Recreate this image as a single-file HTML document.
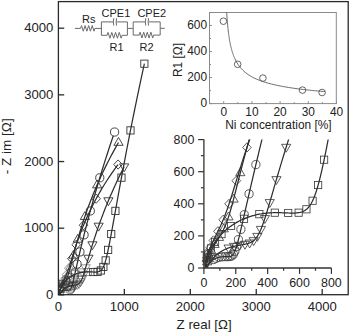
<!DOCTYPE html>
<html><head><meta charset="utf-8"><style>
html,body{margin:0;padding:0;background:#fff;}
body{width:350px;height:334px;overflow:hidden;}
svg{display:block;}
</style></head><body>
<svg width="350" height="334" viewBox="0 0 350 334" style="font-family:'Liberation Sans',sans-serif">
<rect x="58.4" y="1.6" width="289.8" height="293.1" fill="none" stroke="#2a2a2a" stroke-width="1.3"/>
<line x1="58.4" y1="294.87" x2="64.2" y2="294.87" stroke="#2a2a2a" stroke-width="1.3"/>
<text x="53.4" y="299.07" text-anchor="end" font-size="13.1" fill="#222">0</text>
<line x1="58.4" y1="228.20" x2="64.2" y2="228.20" stroke="#2a2a2a" stroke-width="1.3"/>
<text x="53.4" y="232.40" text-anchor="end" font-size="13.1" fill="#222">1000</text>
<line x1="58.4" y1="161.53" x2="64.2" y2="161.53" stroke="#2a2a2a" stroke-width="1.3"/>
<text x="53.4" y="165.73" text-anchor="end" font-size="13.1" fill="#222">2000</text>
<line x1="58.4" y1="94.86" x2="64.2" y2="94.86" stroke="#2a2a2a" stroke-width="1.3"/>
<text x="53.4" y="99.06" text-anchor="end" font-size="13.1" fill="#222">3000</text>
<line x1="58.4" y1="28.19" x2="64.2" y2="28.19" stroke="#2a2a2a" stroke-width="1.3"/>
<text x="53.4" y="32.39" text-anchor="end" font-size="13.1" fill="#222">4000</text>
<text x="58.40" y="310.8" text-anchor="middle" font-size="13.1" fill="#222">0</text>
<line x1="124.35" y1="294.7" x2="124.35" y2="289.0" stroke="#2a2a2a" stroke-width="1.3"/>
<text x="124.35" y="310.8" text-anchor="middle" font-size="13.1" fill="#222">1000</text>
<line x1="190.30" y1="294.7" x2="190.30" y2="289.0" stroke="#2a2a2a" stroke-width="1.3"/>
<text x="190.30" y="310.8" text-anchor="middle" font-size="13.1" fill="#222">2000</text>
<line x1="256.25" y1="294.7" x2="256.25" y2="289.0" stroke="#2a2a2a" stroke-width="1.3"/>
<text x="256.25" y="310.8" text-anchor="middle" font-size="13.1" fill="#222">3000</text>
<line x1="322.20" y1="294.7" x2="322.20" y2="289.0" stroke="#2a2a2a" stroke-width="1.3"/>
<text x="322.20" y="310.8" text-anchor="middle" font-size="13.1" fill="#222">4000</text>
<text x="176.6" y="329.2" font-size="13.3" fill="#222">Z real [&#937;]</text>
<text transform="translate(11.4,174.2) rotate(-90)" font-size="13.5" fill="#222">- Z im [&#937;]</text>
<line x1="203.9" y1="139.3" x2="203.9" y2="268.6" stroke="#333" stroke-width="1.3"/>
<line x1="203.3" y1="268.0" x2="331.4" y2="268.0" stroke="#333" stroke-width="1.3"/>
<line x1="198.10" y1="268.00" x2="203.9" y2="268.00" stroke="#333" stroke-width="1.2"/>
<text x="194.3" y="272.40" text-anchor="end" font-size="12.4" fill="#222">0</text>
<line x1="200.90" y1="251.95" x2="203.9" y2="251.95" stroke="#333" stroke-width="1.2"/>
<line x1="198.10" y1="235.90" x2="203.9" y2="235.90" stroke="#333" stroke-width="1.2"/>
<text x="194.3" y="240.30" text-anchor="end" font-size="12.4" fill="#222">200</text>
<line x1="200.90" y1="219.85" x2="203.9" y2="219.85" stroke="#333" stroke-width="1.2"/>
<line x1="198.10" y1="203.80" x2="203.9" y2="203.80" stroke="#333" stroke-width="1.2"/>
<text x="194.3" y="208.20" text-anchor="end" font-size="12.4" fill="#222">400</text>
<line x1="200.90" y1="187.75" x2="203.9" y2="187.75" stroke="#333" stroke-width="1.2"/>
<line x1="198.10" y1="171.70" x2="203.9" y2="171.70" stroke="#333" stroke-width="1.2"/>
<text x="194.3" y="176.10" text-anchor="end" font-size="12.4" fill="#222">600</text>
<line x1="200.90" y1="155.65" x2="203.9" y2="155.65" stroke="#333" stroke-width="1.2"/>
<line x1="198.10" y1="139.60" x2="203.9" y2="139.60" stroke="#333" stroke-width="1.2"/>
<text x="194.3" y="144.00" text-anchor="end" font-size="12.4" fill="#222">800</text>
<line x1="203.90" y1="268" x2="203.90" y2="273.90" stroke="#333" stroke-width="1.2"/>
<text x="203.90" y="286.6" text-anchor="middle" font-size="12.4" fill="#222">0</text>
<line x1="219.84" y1="268" x2="219.84" y2="270.80" stroke="#333" stroke-width="1.2"/>
<line x1="235.78" y1="268" x2="235.78" y2="273.90" stroke="#333" stroke-width="1.2"/>
<text x="235.78" y="286.6" text-anchor="middle" font-size="12.4" fill="#222">200</text>
<line x1="251.72" y1="268" x2="251.72" y2="270.80" stroke="#333" stroke-width="1.2"/>
<line x1="267.66" y1="268" x2="267.66" y2="273.90" stroke="#333" stroke-width="1.2"/>
<text x="267.66" y="286.6" text-anchor="middle" font-size="12.4" fill="#222">400</text>
<line x1="283.60" y1="268" x2="283.60" y2="270.80" stroke="#333" stroke-width="1.2"/>
<line x1="299.54" y1="268" x2="299.54" y2="273.90" stroke="#333" stroke-width="1.2"/>
<text x="299.54" y="286.6" text-anchor="middle" font-size="12.4" fill="#222">600</text>
<line x1="315.48" y1="268" x2="315.48" y2="270.80" stroke="#333" stroke-width="1.2"/>
<line x1="331.42" y1="268" x2="331.42" y2="273.90" stroke="#333" stroke-width="1.2"/>
<text x="331.42" y="286.6" text-anchor="middle" font-size="12.4" fill="#222">800</text>
<rect x="209.5" y="12.5" width="126.8" height="91.1" fill="none" stroke="#8a8a8a" stroke-width="1"/>
<line x1="209.5" y1="103.60" x2="211.90" y2="103.60" stroke="#8a8a8a" stroke-width="1"/>
<text x="207.0" y="107.10" text-anchor="end" font-size="11.9" fill="#222">0</text>
<line x1="209.5" y1="90.58" x2="211.00" y2="90.58" stroke="#8a8a8a" stroke-width="1"/>
<line x1="209.5" y1="77.56" x2="211.90" y2="77.56" stroke="#8a8a8a" stroke-width="1"/>
<text x="207.0" y="81.06" text-anchor="end" font-size="11.9" fill="#222">200</text>
<line x1="209.5" y1="64.54" x2="211.00" y2="64.54" stroke="#8a8a8a" stroke-width="1"/>
<line x1="209.5" y1="51.52" x2="211.90" y2="51.52" stroke="#8a8a8a" stroke-width="1"/>
<text x="207.0" y="55.02" text-anchor="end" font-size="11.9" fill="#222">400</text>
<line x1="209.5" y1="38.50" x2="211.00" y2="38.50" stroke="#8a8a8a" stroke-width="1"/>
<line x1="209.5" y1="25.48" x2="211.90" y2="25.48" stroke="#8a8a8a" stroke-width="1"/>
<text x="207.0" y="28.98" text-anchor="end" font-size="11.9" fill="#222">600</text>
<line x1="223.70" y1="103.6" x2="223.70" y2="101.20" stroke="#8a8a8a" stroke-width="1"/>
<text x="223.70" y="116.0" text-anchor="middle" font-size="11.9" fill="#222">0</text>
<line x1="237.80" y1="103.6" x2="237.80" y2="102.10" stroke="#8a8a8a" stroke-width="1"/>
<line x1="251.90" y1="103.6" x2="251.90" y2="101.20" stroke="#8a8a8a" stroke-width="1"/>
<text x="251.90" y="116.0" text-anchor="middle" font-size="11.9" fill="#222">10</text>
<line x1="266.00" y1="103.6" x2="266.00" y2="102.10" stroke="#8a8a8a" stroke-width="1"/>
<line x1="280.10" y1="103.6" x2="280.10" y2="101.20" stroke="#8a8a8a" stroke-width="1"/>
<text x="280.10" y="116.0" text-anchor="middle" font-size="11.9" fill="#222">20</text>
<line x1="294.20" y1="103.6" x2="294.20" y2="102.10" stroke="#8a8a8a" stroke-width="1"/>
<line x1="308.30" y1="103.6" x2="308.30" y2="101.20" stroke="#8a8a8a" stroke-width="1"/>
<text x="308.30" y="116.0" text-anchor="middle" font-size="11.9" fill="#222">30</text>
<line x1="322.40" y1="103.6" x2="322.40" y2="102.10" stroke="#8a8a8a" stroke-width="1"/>
<line x1="336.50" y1="103.6" x2="336.50" y2="101.20" stroke="#8a8a8a" stroke-width="1"/>
<text x="336.50" y="116.0" text-anchor="middle" font-size="11.9" fill="#222">40</text>
<text x="225.2" y="128.8" font-size="11.9" fill="#222">Ni concentration [%]</text>
<text transform="translate(181.8,77.0) rotate(-90)" font-size="11.9" fill="#222">R1 [&#937;]</text>
<polyline points="226.69,12.51 226.84,14.78 226.98,16.89 227.12,18.87 227.27,20.72 227.41,22.45 227.55,24.09 227.70,25.63 227.84,27.09 227.98,28.47 228.13,29.78 228.27,31.03 228.41,32.22 228.56,33.35 228.70,34.44 228.84,35.47 228.98,36.47 229.13,37.42 229.27,38.34 229.41,39.22 229.56,40.06 229.70,40.88 229.84,41.67 229.99,42.42 230.13,43.16 230.27,43.87 230.42,44.55 230.56,45.22 230.70,45.86 230.85,46.48 230.99,47.09 231.13,47.67 231.28,48.24 231.42,48.80 231.56,49.34 231.71,49.86 231.85,50.37 231.99,50.87 232.14,51.35 232.28,51.82 232.42,52.28 232.57,52.73 232.71,53.17 232.85,53.60 232.99,54.01 233.14,54.42 233.28,54.82 233.42,55.21 233.57,55.59 233.71,55.96 233.85,56.33 234.00,56.69 234.14,57.04 234.28,57.38 234.43,57.72 234.57,58.04 234.71,58.37 234.86,58.68 235.00,58.99 235.00,58.99 236.53,61.97 238.05,64.46 239.58,66.58 241.10,68.42 242.63,70.03 244.15,71.46 245.68,72.74 247.20,73.89 248.73,74.94 250.25,75.90 251.78,76.77 253.31,77.58 254.83,78.33 256.36,79.03 257.88,79.68 259.41,80.29 260.93,80.86 262.46,81.40 263.98,81.91 265.51,82.39 267.03,82.84 268.56,83.28 270.08,83.69 271.61,84.08 273.14,84.45 274.66,84.81 276.19,85.15 277.71,85.47 279.24,85.79 280.76,86.09 282.29,86.38 283.81,86.65 285.34,86.92 286.86,87.18 288.39,87.43 289.92,87.67 291.44,87.90 292.97,88.13 294.49,88.35 296.02,88.56 297.54,88.76 299.07,88.96 300.59,89.15 302.12,89.34 303.64,89.52 305.17,89.70 306.69,89.87 308.22,90.04 309.75,90.20 311.27,90.36 312.80,90.51 314.32,90.66 315.85,90.81 317.37,90.95 318.90,91.09 320.42,91.23 321.95,91.36 323.47,91.49 325.00,91.62" fill="none" stroke="#5a5a5a" stroke-width="0.9"/>
<circle cx="223.4" cy="21.2" r="3.3" fill="none" stroke="#555" stroke-width="0.9"/>
<circle cx="237.7" cy="64.3" r="3.3" fill="none" stroke="#555" stroke-width="0.9"/>
<circle cx="262.9" cy="78.1" r="3.3" fill="none" stroke="#555" stroke-width="0.9"/>
<circle cx="302.5" cy="90.1" r="3.3" fill="none" stroke="#555" stroke-width="0.9"/>
<circle cx="322.1" cy="92.5" r="3.3" fill="none" stroke="#555" stroke-width="0.9"/>
<g fill="none" stroke="#6a6a6a" stroke-width="1">
<polyline points="74.9,28.4 80.6,28.4 80.60,28.40 81.49,25.60 83.28,31.20 85.07,25.60 86.86,31.20 88.64,25.60 90.43,31.20 92.22,25.60 94.01,31.20 94.90,28.40 101.4,28.4"/>
<path d="M101.4,21.9 V35.3 M127.4,21.9 V35.3 M101.4,21.9 H113.3 M116.5,21.9 H127.4 M101.4,35.3 H107.1 M122.1,35.3 H127.4"/>
<path d="M113.8,18.2 Q112.8,21.9 113.8,25.6 M116.6,18.2 Q115.6,21.9 116.6,25.6"/>
<polyline points="107.10,35.30 108.04,32.40 109.91,38.20 111.79,32.40 113.66,38.20 115.54,32.40 117.41,38.20 119.29,32.40 121.16,38.20 122.10,35.30"/>
<path d="M127.4,28.4 H133.2"/>
<path d="M133.2,21.9 V35.1 M160.2,21.9 V35.1 M133.2,21.9 H145.3 M148.5,21.9 H160.2 M133.2,35.1 H139.2 M153.6,35.1 H160.2"/>
<path d="M145.8,18.2 Q144.8,21.9 145.8,25.6 M148.6,18.2 Q147.6,21.9 148.6,25.6"/>
<polyline points="139.20,35.10 140.10,32.20 141.90,38.00 143.70,32.20 145.50,38.00 147.30,32.20 149.10,38.00 150.90,32.20 152.70,38.00 153.60,35.10"/>
<path d="M160.2,28.3 H164.8"/>
</g>
<text x="82.1" y="23.0" font-size="11" fill="#222">Rs</text>
<text x="101.6" y="16.9" font-size="11" fill="#222">CPE1</text>
<text x="137.4" y="16.9" font-size="11" fill="#222">CPE2</text>
<text x="109.6" y="51.0" font-size="11" fill="#222">R1</text>
<text x="139.6" y="50.8" font-size="11" fill="#222">R2</text>
<defs><clipPath id="cm"><rect x="59" y="2.3" width="288.5" height="292"/></clipPath><clipPath id="ci"><rect x="204.5" y="139.5" width="127" height="128"/></clipPath></defs>
<g clip-path="url(#cm)"><g fill="none" stroke="#2e2e2e" stroke-width="1.25" stroke-linejoin="round"><polyline points="144.37,63.69 143.08,69.60 141.84,75.36 140.64,80.97 139.48,86.44 138.36,91.77 137.27,96.96 136.22,102.02 135.21,106.95 134.23,111.75 133.28,116.43 132.36,120.98 131.48,125.42 130.62,129.75 129.79,133.96 128.98,138.06 128.20,142.06 127.45,145.95 126.72,149.75 126.01,153.44 125.32,157.03 124.66,160.54 124.02,163.95 123.39,167.27 122.79,170.50 122.20,173.65 121.63,176.72 121.08,179.70 120.54,182.61 120.02,185.44 119.52,188.20 119.03,190.88 118.55,193.49 118.09,196.03 117.65,198.50 117.21,200.91 116.79,203.25 116.38,205.53 115.98,207.75 115.59,209.91 115.21,212.00 114.84,214.05 114.49,216.03 114.14,217.97 113.80,219.85 113.47,221.68 113.15,223.45 112.84,225.18 112.53,226.86 112.23,228.50 111.94,230.09 111.66,231.63 111.38,233.13 111.12,234.59 110.85,236.01 110.59,237.38 110.34,238.72 110.10,240.02 109.86,241.28 109.62,242.51 109.39,243.69 109.16,244.85 108.94,245.97 108.73,247.05 108.51,248.11 108.30,249.13 108.10,250.12 107.89,251.08 107.69,252.01 107.50,252.91 107.30,253.78 107.11,254.62 106.92,255.44 106.74,256.23 106.55,257.00 106.37,257.74 106.19,258.45 106.01,259.14 105.83,259.81 105.66,260.45 105.48,261.07 105.30,261.67 105.13,262.24 104.96,262.80 104.78,263.33 104.61,263.85 104.44,264.34 104.26,264.81 104.09,265.27 103.91,265.71 103.74,266.12 103.56,266.52 103.38,266.91 103.20,267.27 103.02,267.62 102.84,267.95 102.65,268.27 102.47,268.57 102.28,268.85 102.09,269.12 101.89,269.38 101.69,269.62 101.49,269.84 101.29,270.06 101.08,270.26 100.87,270.45 100.66,270.62 100.44,270.78 100.21,270.93 99.99,271.07 99.75,271.20 99.51,271.32 99.27,271.43 99.02,271.52 98.77,271.61 98.51,271.69 98.25,271.76 97.98,271.82 97.70,271.87 97.41,271.92 97.12,271.96 96.83,271.99 96.52,272.01 96.21,272.03 95.90,272.04 95.57,272.05 95.24,272.06 94.90,272.06 94.56,272.05 94.20,272.05 93.84,272.04 93.47,272.02 93.10,272.01 92.71,271.99 92.32,271.98 91.93,271.96 91.52,271.95 91.11,271.93 90.69,271.92 90.26,271.91 89.83,271.90 89.39,271.89 88.95,271.88 88.50,271.88 88.04,271.88 87.58,271.89 87.11,271.90 86.64,271.92 86.16,271.94 85.69,271.97 85.20,272.01 84.71,272.05 84.23,272.09 83.73,272.15 83.24,272.21 82.74,272.28 82.25,272.36 81.75,272.44 81.25,272.53 80.76,272.63 80.26,272.74 79.77,272.86 79.28,272.98 78.79,273.11 78.30,273.25 77.81,273.40 77.33,273.55 76.86,273.71 76.39,273.88 75.92,274.06 75.46,274.24 75.00,274.43 74.55,274.63 74.11,274.83 73.67,275.04 73.24,275.25 72.81,275.47 72.40,275.70 71.99,275.93 71.58,276.16 71.19,276.40 70.81,276.64 70.43,276.88 70.06,277.13 69.70,277.38 69.34,277.63 69.00,277.89 68.66,278.14 68.33,278.40 68.01,278.66 67.70,278.92 67.40,279.18 67.11,279.44 66.82,279.70 66.54,279.96 66.27,280.22 66.01,280.48 65.75,280.74 65.50,280.99 65.26,281.25 65.03,281.50 64.81,281.75 64.59,282.01 64.38,282.25 64.17,282.50 63.97,282.74 63.78,282.98 63.60,283.22 63.42,283.46 63.24,283.69 63.08,283.92 62.92,284.15 62.76,284.37 62.61,284.59 62.46,284.81 62.32,285.03 62.19,285.24 62.06,285.45 61.93,285.65 61.81,285.85 61.69,286.05 61.58,286.25 61.47,286.44 61.36,286.63 61.26,286.81 61.16,286.99 61.07,287.17 60.98,287.35 60.89,287.52 60.81,287.69 60.72,287.85 60.65,288.01 60.57,288.17 60.50,288.33 60.43,288.48 60.36,288.63 60.29,288.77 60.23,288.92 60.17,289.06 60.11,289.19 60.05,289.33 60.00,289.46 59.95,289.59 59.89,289.71 59.85,289.84 59.80,289.96 59.75,290.08 59.71,290.19 59.67,290.30 59.63,290.41 59.59,290.52 59.55,290.63 59.51,290.73 59.48,290.83 59.44,290.93 59.41,291.02 59.38,291.12 59.35,291.21 59.32,291.30 59.29,291.38 59.26,291.47 59.23,291.55 59.21,291.63 59.18,291.71 59.16,291.79 59.14,291.87 59.11,291.94 59.09,292.01 59.07,292.08 59.05,292.15 59.03,292.22 59.01,292.28 58.99,292.35 58.97,292.41 58.96,292.47 58.94,292.53 58.92,292.59 58.91,292.65 58.89,292.70 58.88,292.76 58.87,292.81 58.85,292.86 58.84,292.91 58.83,292.96 58.81,293.01 58.80,293.05 58.79,293.10 58.78,293.14 58.77,293.18 58.76,293.23 58.75,293.27 58.74,293.31 58.73,293.35 58.72,293.38 58.71,293.42 58.70,293.46 58.69,293.49 58.68,293.53 58.68,293.56 58.67,293.59 58.66,293.63 58.65,293.66 58.65,293.69 58.64,293.72 58.63,293.75 58.63,293.77 58.62,293.80 58.61,293.83 58.61,293.86 58.60,293.88 58.60,293.91 58.59,293.93 58.59,293.95 58.58,293.98 58.58,294.00 58.57,294.02 58.57,294.04 58.56,294.06 58.56,294.08 58.55,294.10 58.55,294.12 58.55,294.14 58.54,294.16 58.54,294.18 58.53,294.19 58.53,294.21 58.53,294.23 58.52,294.24 58.52,294.26 58.52,294.28 58.51,294.29 58.51,294.31 58.51,294.32 58.50,294.33 58.50,294.35 58.50,294.36 58.50,294.37 58.49,294.39 58.49,294.40 58.49,294.41 58.49,294.42 58.48,294.43 58.48,294.44 58.48,294.45 58.48,294.46 58.48,294.48 58.47,294.49 58.47,294.49 58.47,294.50 58.47,294.51 58.47,294.52 58.47,294.53 58.46,294.54 58.46,294.55 58.46,294.56 58.46,294.56 58.46,294.57 58.46,294.58 58.45,294.59 58.45,294.59 58.45,294.60 58.45,294.61 58.45,294.61 58.45,294.62 58.45,294.63 58.45,294.63 58.44,294.64 58.44,294.65 58.44,294.65 58.44,294.66 58.44,294.66 58.44,294.67 58.44,294.67 58.44,294.68 58.44,294.68 58.43,294.69 58.43,294.69 58.43,294.70 58.43,294.70 58.43,294.70 58.43,294.71 58.43,294.71 58.43,294.72 58.43,294.72 58.43,294.72 58.43,294.73 58.43,294.73 58.43,294.74 58.42,294.74 58.42,294.74 58.42,294.75 58.42,294.75 58.42,294.75 58.42,294.75 58.42,294.76 58.42,294.76 58.42,294.76 58.42,294.77 58.42,294.77 58.42,294.77 58.42,294.77 58.42,294.78 58.42,294.78 58.42,294.78 58.42,294.78 58.42,294.79 58.42,294.79 58.42,294.79 58.41,294.79 58.41,294.79 58.41,294.80 58.41,294.80 58.41,294.80 58.41,294.80 58.41,294.80 58.41,294.80 58.41,294.81 58.41,294.81 58.41,294.81 58.41,294.81 58.41,294.81 58.41,294.81 58.41,294.82 58.41,294.82 58.41,294.82 58.41,294.82 58.41,294.82 58.41,294.82 58.41,294.82 58.41,294.82 58.41,294.83 58.41,294.83 58.41,294.83 58.41,294.83 58.41,294.83 58.41,294.83 58.41,294.83 58.41,294.83 58.41,294.83 58.41,294.83 58.41,294.84 58.41,294.84 58.41,294.84 58.41,294.84 58.41,294.84 58.41,294.84 58.41,294.84 58.41,294.84 58.41,294.84 58.41,294.84 58.41,294.84 58.41,294.84 58.40,294.84 58.40,294.85 58.40,294.85 58.40,294.85 58.40,294.85 58.40,294.85 58.40,294.85 58.40,294.85 58.40,294.85 58.40,294.85 58.40,294.85 58.40,294.85 58.40,294.85 58.40,294.85 58.40,294.85 58.40,294.85 58.40,294.85 58.40,294.85 58.40,294.85 58.40,294.85 58.40,294.85 58.40,294.86 58.40,294.86 58.40,294.86 58.40,294.86 58.40,294.86 58.40,294.86 58.40,294.86 58.40,294.86 58.40,294.86 58.40,294.86 58.40,294.86 58.40,294.86 58.40,294.86 58.40,294.86 58.40,294.86 58.40,294.86 58.40,294.86 58.40,294.86 58.40,294.86 58.40,294.86 58.40,294.86 58.40,294.86 58.40,294.86 58.40,294.86 58.40,294.86 58.40,294.86 58.40,294.86 58.40,294.86 58.40,294.86 58.40,294.86 58.40,294.86 58.40,294.86 58.40,294.86 58.40,294.86 58.40,294.86 58.40,294.86 58.40,294.86 58.40,294.86 58.40,294.86 58.40,294.86 58.40,294.86 58.40,294.86 58.40,294.86 58.40,294.87 58.40,294.87 58.40,294.87 58.40,294.87 58.40,294.87 58.40,294.87 58.40,294.87 58.40,294.87 58.40,294.87 58.40,294.87 58.40,294.87 58.40,294.87 58.40,294.87 58.40,294.87 58.40,294.87 58.40,294.87 58.40,294.87 58.40,294.87 58.40,294.87 58.40,294.87 58.40,294.87 58.40,294.87 58.40,294.87 58.40,294.87 58.40,294.87 58.40,294.87 58.40,294.87 58.40,294.87 58.40,294.87 58.40,294.87 58.40,294.87 58.40,294.87 58.40,294.87 58.40,294.87 58.40,294.87 58.40,294.87 58.40,294.87 58.40,294.87 58.40,294.87 58.40,294.87 58.40,294.87 58.40,294.87 58.40,294.87 58.40,294.87 58.40,294.87 58.40,294.87 58.40,294.87 58.40,294.87 58.40,294.87 58.40,294.87 58.40,294.87 58.40,294.87 58.40,294.87 58.40,294.87 58.40,294.87 58.40,294.87 58.40,294.87 58.40,294.87 58.40,294.87 58.40,294.87 58.40,294.87 58.40,294.87 58.40,294.87 58.40,294.87 58.40,294.87 58.40,294.87 58.40,294.87 58.40,294.87 58.40,294.87 58.40,294.87 58.40,294.87 58.40,294.87 58.40,294.87 58.40,294.87 58.40,294.87 58.40,294.87 58.40,294.87 58.40,294.87 58.40,294.87 58.40,294.87 58.40,294.87 58.40,294.87 58.40,294.87 58.40,294.87 58.40,294.87 58.40,294.87 58.40,294.87 58.40,294.87 58.40,294.87 58.40,294.87 58.40,294.87 58.40,294.87 58.40,294.87 58.40,294.87 58.40,294.87 58.40,294.87 58.40,294.87 58.40,294.87 58.40,294.87 58.40,294.87 58.40,294.87 58.40,294.87 58.40,294.87 58.40,294.87 58.40,294.87 58.40,294.87 58.40,294.87 58.40,294.87 58.40,294.87 58.40,294.87 58.40,294.87 58.40,294.87 58.40,294.87 58.40,294.87 58.40,294.87 58.40,294.87 58.40,294.87 58.40,294.87 58.40,294.87 58.40,294.87 58.40,294.87 58.40,294.87 58.40,294.87 58.40,294.87 58.40,294.87 58.40,294.87 58.40,294.87 58.40,294.87 58.40,294.87 58.40,294.87 58.40,294.87 58.40,294.87 58.40,294.87 58.40,294.87 58.40,294.87 58.40,294.87 58.40,294.87 58.40,294.87 58.40,294.87 58.40,294.87 58.40,294.87 58.40,294.87 58.40,294.87 58.40,294.87 58.40,294.87 58.40,294.87 58.40,294.87 58.40,294.87 58.40,294.87 58.40,294.87 58.40,294.87 58.40,294.87 58.40,294.87 58.40,294.87 58.40,294.87 58.40,294.87 58.40,294.87 58.40,294.87 58.40,294.87 58.40,294.87 58.40,294.87 58.40,294.87 58.40,294.87 58.40,294.87 58.40,294.87 58.40,294.87 58.40,294.87 58.40,294.87 58.40,294.87 58.40,294.87 58.40,294.87 58.40,294.87 58.40,294.87 58.40,294.87 58.40,294.87 58.40,294.87 58.40,294.87 58.40,294.87 58.40,294.87 58.40,294.87 58.40,294.87 58.40,294.87 58.40,294.87 58.40,294.87"/><polyline points="124.15,166.79 122.77,169.49 121.44,172.15 120.15,174.75 118.90,177.31 117.70,179.82 116.54,182.28 115.41,184.69 114.33,187.06 113.28,189.39 112.27,191.66 111.28,193.90 110.34,196.08 109.42,198.23 108.54,200.33 107.68,202.39 106.85,204.41 106.05,206.38 105.28,208.32 104.53,210.21 103.81,212.07 103.11,213.88 102.43,215.66 101.78,217.40 101.14,219.11 100.53,220.77 99.93,222.40 99.36,224.00 98.80,225.56 98.27,227.09 97.74,228.59 97.24,230.05 96.75,231.48 96.28,232.88 95.82,234.24 95.37,235.58 94.94,236.89 94.52,238.17 94.12,239.42 93.73,240.64 93.35,241.83 92.98,243.00 92.62,244.14 92.27,245.25 91.93,246.34 91.61,247.40 91.29,248.44 90.98,249.46 90.68,250.45 90.39,251.42 90.10,252.36 89.83,253.29 89.56,254.19 89.30,255.07 89.05,255.93 88.80,256.77 88.56,257.59 88.33,258.39 88.10,259.17 87.88,259.93 87.66,260.68 87.45,261.40 87.25,262.11 87.05,262.80 86.86,263.47 86.67,264.13 86.48,264.77 86.30,265.40 86.12,266.01 85.95,266.60 85.78,267.18 85.61,267.75 85.45,268.30 85.30,268.84 85.14,269.36 84.99,269.87 84.84,270.37 84.69,270.85 84.55,271.32 84.41,271.78 84.27,272.23 84.14,272.66 84.00,273.09 83.87,273.50 83.74,273.90 83.62,274.29 83.49,274.67 83.37,275.04 83.25,275.40 83.13,275.75 83.01,276.09 82.90,276.42 82.78,276.74 82.67,277.05 82.55,277.36 82.44,277.65 82.33,277.93 82.22,278.21 82.11,278.48 82.01,278.74 81.90,278.99 81.79,279.24 81.69,279.48 81.58,279.71 81.48,279.93 81.37,280.15 81.27,280.36 81.16,280.56 81.06,280.76 80.96,280.95 80.85,281.13 80.75,281.31 80.65,281.48 80.54,281.64 80.44,281.80 80.34,281.96 80.23,282.11 80.13,282.25 80.02,282.39 79.92,282.52 79.81,282.65 79.71,282.77 79.60,282.89 79.49,283.01 79.38,283.12 79.27,283.22 79.16,283.32 79.05,283.42 78.94,283.51 78.83,283.60 78.72,283.69 78.60,283.77 78.49,283.85 78.37,283.92 78.26,284.00 78.14,284.07 78.02,284.13 77.90,284.20 77.78,284.26 77.65,284.31 77.53,284.37 77.41,284.42 77.28,284.47 77.15,284.52 77.02,284.57 76.89,284.61 76.76,284.65 76.63,284.69 76.49,284.73 76.36,284.77 76.22,284.81 76.08,284.84 75.94,284.87 75.80,284.90 75.66,284.94 75.52,284.97 75.37,285.00 75.23,285.02 75.08,285.05 74.93,285.08 74.78,285.11 74.63,285.13 74.48,285.16 74.32,285.19 74.17,285.21 74.01,285.24 73.86,285.26 73.70,285.29 73.54,285.32 73.38,285.34 73.22,285.37 73.06,285.40 72.90,285.43 72.74,285.46 72.58,285.49 72.41,285.52 72.25,285.55 72.09,285.58 71.92,285.61 71.76,285.65 71.59,285.68 71.43,285.72 71.26,285.75 71.10,285.79 70.93,285.83 70.77,285.87 70.60,285.91 70.44,285.96 70.28,286.00 70.11,286.05 69.95,286.09 69.79,286.14 69.62,286.19 69.46,286.24 69.30,286.29 69.14,286.34 68.98,286.40 68.83,286.45 68.67,286.51 68.51,286.57 68.36,286.62 68.21,286.68 68.05,286.74 67.90,286.81 67.75,286.87 67.60,286.93 67.46,287.00 67.31,287.07 67.17,287.13 67.03,287.20 66.89,287.27 66.75,287.34 66.61,287.41 66.47,287.48 66.34,287.55 66.21,287.63 66.08,287.70 65.95,287.77 65.82,287.85 65.70,287.92 65.57,288.00 65.45,288.07 65.33,288.15 65.21,288.23 65.10,288.30 64.98,288.38 64.87,288.46 64.76,288.53 64.65,288.61 64.55,288.69 64.44,288.76 64.34,288.84 64.24,288.92 64.14,289.00 64.04,289.07 63.95,289.15 63.85,289.23 63.76,289.30 63.67,289.38 63.58,289.46 63.50,289.53 63.41,289.61 63.33,289.68 63.25,289.76 63.17,289.83 63.09,289.90 63.01,289.98 62.94,290.05 62.87,290.12 62.79,290.19 62.72,290.26 62.66,290.33 62.59,290.40 62.52,290.47 62.46,290.54 62.40,290.61 62.33,290.68 62.27,290.74 62.22,290.81 62.16,290.87 62.10,290.94 62.05,291.00 61.99,291.07 61.94,291.13 61.89,291.19 61.84,291.25 61.79,291.31 61.74,291.37 61.70,291.43 61.65,291.49 61.61,291.54 61.56,291.60 61.52,291.66 61.48,291.71 61.44,291.77 61.40,291.82 61.36,291.87 61.32,291.93 61.28,291.98 61.25,292.03 61.21,292.08 61.18,292.13 61.15,292.18 61.11,292.22 61.08,292.27 61.05,292.32 61.02,292.36 60.99,292.41 60.96,292.45 60.93,292.50 60.90,292.54 60.88,292.58 60.85,292.62 60.82,292.66 60.80,292.70 60.77,292.74 60.75,292.78 60.73,292.82 60.70,292.86 60.68,292.90 60.66,292.93 60.64,292.97 60.62,293.00 60.60,293.04 60.58,293.07 60.56,293.11 60.54,293.14 60.52,293.17 60.50,293.20 60.48,293.23 60.47,293.26 60.45,293.30 60.43,293.32 60.42,293.35 60.40,293.38 60.39,293.41 60.37,293.44 60.36,293.47 60.34,293.49 60.33,293.52 60.32,293.54 60.30,293.57 60.29,293.59 60.28,293.62 60.26,293.64 60.25,293.67 60.24,293.69 60.23,293.71 60.22,293.73 60.21,293.76 60.19,293.78 60.18,293.80 60.17,293.82 60.16,293.84 60.15,293.86 60.14,293.88 60.13,293.90 60.12,293.92 60.12,293.94 60.11,293.95 60.10,293.97 60.09,293.99 60.08,294.01 60.07,294.02 60.07,294.04 60.06,294.06 60.05,294.07 60.04,294.09 60.04,294.10 60.03,294.12 60.02,294.13 60.01,294.15 60.01,294.16 60.00,294.17 59.99,294.19 59.99,294.20 59.98,294.21 59.98,294.23 59.97,294.24 59.97,294.25 59.96,294.26 59.95,294.28 59.95,294.29 59.94,294.30 59.94,294.31 59.93,294.32 59.93,294.33 59.92,294.34 59.92,294.35 59.91,294.36 59.91,294.37 59.91,294.38 59.90,294.39 59.90,294.40 59.89,294.41 59.89,294.42 59.89,294.43 59.88,294.44 59.88,294.45 59.87,294.46 59.87,294.46 59.87,294.47 59.86,294.48 59.86,294.49 59.86,294.49 59.85,294.50 59.85,294.51 59.85,294.52 59.84,294.52 59.84,294.53 59.84,294.54 59.84,294.54 59.83,294.55 59.83,294.56 59.83,294.56 59.82,294.57 59.82,294.57 59.82,294.58 59.82,294.59 59.81,294.59 59.81,294.60 59.81,294.60 59.81,294.61 59.81,294.61 59.80,294.62 59.80,294.62 59.80,294.63 59.80,294.63 59.80,294.64 59.79,294.64 59.79,294.65 59.79,294.65 59.79,294.66 59.79,294.66 59.78,294.66 59.78,294.67 59.78,294.67 59.78,294.68 59.78,294.68 59.78,294.68 59.77,294.69 59.77,294.69 59.77,294.69 59.77,294.70 59.77,294.70 59.77,294.71 59.77,294.71 59.76,294.71 59.76,294.71 59.76,294.72 59.76,294.72 59.76,294.72 59.76,294.73 59.76,294.73 59.76,294.73 59.75,294.74 59.75,294.74 59.75,294.74 59.75,294.74 59.75,294.75 59.75,294.75 59.75,294.75 59.75,294.75 59.75,294.76 59.75,294.76 59.74,294.76 59.74,294.76 59.74,294.76 59.74,294.77 59.74,294.77 59.74,294.77 59.74,294.77 59.74,294.77 59.74,294.78 59.74,294.78 59.74,294.78 59.74,294.78 59.73,294.78 59.73,294.79 59.73,294.79 59.73,294.79 59.73,294.79 59.73,294.79 59.73,294.79 59.73,294.79 59.73,294.80 59.73,294.80 59.73,294.80 59.73,294.80 59.73,294.80 59.73,294.80 59.73,294.80 59.73,294.81 59.73,294.81 59.72,294.81 59.72,294.81 59.72,294.81 59.72,294.81 59.72,294.81 59.72,294.81 59.72,294.82 59.72,294.82 59.72,294.82 59.72,294.82 59.72,294.82 59.72,294.82 59.72,294.82 59.72,294.82 59.72,294.82 59.72,294.82 59.72,294.83 59.72,294.83 59.72,294.83 59.72,294.83 59.72,294.83 59.72,294.83 59.72,294.83 59.72,294.83 59.72,294.83 59.71,294.83 59.71,294.83 59.71,294.83 59.71,294.84 59.71,294.84 59.71,294.84 59.71,294.84 59.71,294.84 59.71,294.84 59.71,294.84 59.71,294.84 59.71,294.84 59.71,294.84 59.71,294.84 59.71,294.84 59.71,294.84 59.71,294.84 59.71,294.84 59.71,294.84 59.71,294.84 59.71,294.85 59.71,294.85 59.71,294.85 59.71,294.85 59.71,294.85 59.71,294.85 59.71,294.85 59.71,294.85 59.71,294.85 59.71,294.85 59.71,294.85 59.71,294.85 59.71,294.85 59.71,294.85 59.71,294.85 59.71,294.85 59.71,294.85 59.71,294.85 59.71,294.85 59.71,294.85 59.71,294.85 59.71,294.85 59.71,294.85 59.71,294.85 59.71,294.85 59.71,294.86 59.71,294.86 59.71,294.86 59.71,294.86 59.71,294.86 59.71,294.86 59.71,294.86 59.70,294.86 59.70,294.86 59.70,294.86 59.70,294.86 59.70,294.86 59.70,294.86 59.70,294.86 59.70,294.86 59.70,294.86 59.70,294.86 59.70,294.86 59.70,294.86 59.70,294.86 59.70,294.86 59.70,294.86 59.70,294.86 59.70,294.86 59.70,294.86 59.70,294.86 59.70,294.86 59.70,294.86 59.70,294.86 59.70,294.86 59.70,294.86 59.70,294.86 59.70,294.86 59.70,294.86 59.70,294.86 59.70,294.86 59.70,294.86 59.70,294.86 59.70,294.86 59.70,294.86 59.70,294.86 59.70,294.86 59.70,294.86 59.70,294.86 59.70,294.86 59.70,294.86 59.70,294.86 59.70,294.86 59.70,294.86 59.70,294.86 59.70,294.86 59.70,294.86 59.70,294.86 59.70,294.86 59.70,294.86 59.70,294.87 59.70,294.87 59.70,294.87 59.70,294.87 59.70,294.87 59.70,294.87 59.70,294.87 59.70,294.87 59.70,294.87 59.70,294.87 59.70,294.87 59.70,294.87 59.70,294.87 59.70,294.87 59.70,294.87 59.70,294.87 59.70,294.87 59.70,294.87 59.70,294.87 59.70,294.87 59.70,294.87 59.70,294.87 59.70,294.87 59.70,294.87 59.70,294.87 59.70,294.87 59.70,294.87 59.70,294.87 59.70,294.87 59.70,294.87 59.70,294.87 59.70,294.87 59.70,294.87 59.70,294.87 59.70,294.87 59.70,294.87 59.70,294.87 59.70,294.87 59.70,294.87 59.70,294.87 59.70,294.87 59.70,294.87 59.70,294.87 59.70,294.87 59.70,294.87 59.70,294.87 59.70,294.87 59.70,294.87 59.70,294.87 59.70,294.87 59.70,294.87 59.70,294.87 59.70,294.87 59.70,294.87 59.70,294.87 59.70,294.87 59.70,294.87 59.70,294.87 59.70,294.87 59.70,294.87 59.70,294.87 59.70,294.87 59.70,294.87 59.70,294.87 59.70,294.87 59.70,294.87 59.70,294.87 59.70,294.87 59.70,294.87 59.70,294.87 59.70,294.87 59.70,294.87 59.70,294.87 59.70,294.87 59.70,294.87 59.70,294.87 59.70,294.87 59.70,294.87 59.70,294.87 59.70,294.87 59.70,294.87 59.70,294.87 59.70,294.87 59.70,294.87 59.70,294.87 59.70,294.87 59.70,294.87 59.70,294.87 59.70,294.87 59.70,294.87 59.70,294.87 59.70,294.87 59.70,294.87 59.70,294.87 59.70,294.87 59.70,294.87 59.70,294.87 59.70,294.87 59.70,294.87 59.70,294.87 59.70,294.87"/><polyline points="113.31,135.73 112.14,139.17 111.01,142.53 109.91,145.82 108.85,149.04 107.82,152.20 106.82,155.29 105.84,158.32 104.90,161.28 103.99,164.18 103.10,167.02 102.23,169.80 101.40,172.52 100.58,175.19 99.79,177.79 99.03,180.35 98.28,182.84 97.56,185.29 96.86,187.68 96.18,190.02 95.51,192.32 94.87,194.56 94.24,196.75 93.64,198.90 93.04,201.00 92.47,203.06 91.91,205.07 91.37,207.04 90.84,208.97 90.33,210.85 89.83,212.70 89.34,214.50 88.87,216.26 88.41,217.99 87.97,219.68 87.53,221.33 87.11,222.95 86.70,224.53 86.30,226.08 85.91,227.59 85.53,229.07 85.16,230.51 84.80,231.93 84.45,233.31 84.11,234.67 83.78,235.99 83.46,237.29 83.14,238.56 82.84,239.79 82.54,241.01 82.25,242.19 81.97,243.35 81.69,244.48 81.42,245.59 81.16,246.67 80.91,247.73 80.66,248.77 80.42,249.78 80.18,250.77 79.95,251.74 79.73,252.69 79.51,253.62 79.30,254.52 79.09,255.41 78.89,256.27 78.69,257.12 78.50,257.95 78.31,258.76 78.13,259.55 77.95,260.32 77.77,261.07 77.60,261.81 77.44,262.54 77.27,263.24 77.12,263.93 76.96,264.61 76.81,265.27 76.66,265.91 76.52,266.54 76.38,267.16 76.24,267.76 76.11,268.35 75.98,268.92 75.85,269.48 75.73,270.03 75.60,270.57 75.48,271.09 75.37,271.60 75.25,272.11 75.14,272.59 75.03,273.07 74.93,273.54 74.82,274.00 74.72,274.44 74.62,274.88 74.53,275.30 74.43,275.72 74.34,276.12 74.25,276.52 74.16,276.91 74.07,277.29 73.99,277.65 73.90,278.02 73.82,278.37 73.74,278.71 73.66,279.05 73.59,279.38 73.51,279.70 73.44,280.01 73.36,280.31 73.29,280.61 73.22,280.90 73.16,281.19 73.09,281.46 73.02,281.73 72.96,282.00 72.89,282.25 72.83,282.50 72.77,282.75 72.71,282.99 72.65,283.22 72.59,283.45 72.54,283.67 72.48,283.88 72.43,284.09 72.37,284.30 72.32,284.50 72.26,284.69 72.21,284.88 72.16,285.07 72.11,285.25 72.06,285.42 72.01,285.60 71.96,285.76 71.91,285.92 71.87,286.08 71.82,286.23 71.77,286.38 71.73,286.53 71.68,286.67 71.64,286.81 71.59,286.94 71.55,287.07 71.50,287.20 71.46,287.32 71.42,287.44 71.38,287.55 71.33,287.66 71.29,287.77 71.25,287.88 71.21,287.98 71.16,288.08 71.12,288.17 71.08,288.27 71.04,288.36 71.00,288.44 70.96,288.53 70.92,288.61 70.87,288.69 70.83,288.76 70.79,288.84 70.75,288.91 70.71,288.97 70.67,289.04 70.63,289.10 70.58,289.16 70.54,289.22 70.50,289.28 70.46,289.33 70.41,289.38 70.37,289.43 70.33,289.48 70.28,289.53 70.24,289.57 70.20,289.61 70.15,289.65 70.11,289.69 70.06,289.73 70.02,289.76 69.97,289.79 69.92,289.82 69.88,289.85 69.83,289.88 69.78,289.91 69.73,289.93 69.68,289.95 69.63,289.98 69.58,290.00 69.53,290.01 69.48,290.03 69.43,290.05 69.38,290.06 69.32,290.08 69.27,290.09 69.22,290.10 69.16,290.11 69.10,290.12 69.05,290.13 68.99,290.14 68.93,290.14 68.87,290.15 68.81,290.16 68.75,290.16 68.69,290.16 68.63,290.17 68.56,290.17 68.50,290.17 68.44,290.17 68.37,290.17 68.30,290.17 68.24,290.17 68.17,290.17 68.10,290.17 68.03,290.17 67.96,290.17 67.89,290.17 67.82,290.17 67.74,290.17 67.67,290.17 67.60,290.17 67.52,290.16 67.44,290.16 67.37,290.16 67.29,290.16 67.21,290.16 67.13,290.16 67.05,290.16 66.97,290.16 66.89,290.16 66.81,290.16 66.73,290.16 66.65,290.17 66.57,290.17 66.48,290.17 66.40,290.18 66.32,290.18 66.23,290.19 66.15,290.19 66.06,290.20 65.98,290.21 65.89,290.21 65.81,290.22 65.72,290.23 65.63,290.24 65.55,290.25 65.46,290.26 65.37,290.28 65.29,290.29 65.20,290.30 65.12,290.32 65.03,290.33 64.94,290.35 64.86,290.37 64.77,290.39 64.69,290.41 64.60,290.43 64.52,290.45 64.44,290.47 64.35,290.49 64.27,290.52 64.19,290.54 64.10,290.57 64.02,290.59 63.94,290.62 63.86,290.65 63.78,290.67 63.70,290.70 63.63,290.73 63.55,290.76 63.47,290.79 63.40,290.83 63.32,290.86 63.25,290.89 63.17,290.92 63.10,290.96 63.03,290.99 62.96,291.03 62.89,291.06 62.82,291.10 62.75,291.14 62.69,291.17 62.62,291.21 62.55,291.25 62.49,291.28 62.43,291.32 62.37,291.36 62.30,291.40 62.24,291.44 62.18,291.48 62.13,291.51 62.07,291.55 62.01,291.59 61.96,291.63 61.90,291.67 61.85,291.71 61.80,291.75 61.75,291.79 61.70,291.83 61.65,291.87 61.60,291.91 61.55,291.95 61.51,291.99 61.46,292.02 61.42,292.06 61.37,292.10 61.33,292.14 61.29,292.18 61.25,292.22 61.21,292.26 61.17,292.29 61.13,292.33 61.09,292.37 61.05,292.40 61.02,292.44 60.98,292.48 60.95,292.51 60.91,292.55 60.88,292.59 60.85,292.62 60.82,292.66 60.79,292.69 60.76,292.72 60.73,292.76 60.70,292.79 60.67,292.82 60.64,292.86 60.62,292.89 60.59,292.92 60.56,292.95 60.54,292.99 60.51,293.02 60.49,293.05 60.47,293.08 60.45,293.11 60.42,293.14 60.40,293.17 60.38,293.20 60.36,293.22 60.34,293.25 60.32,293.28 60.30,293.31 60.28,293.33 60.26,293.36 60.25,293.39 60.23,293.41 60.21,293.44 60.19,293.46 60.18,293.49 60.16,293.51 60.15,293.54 60.13,293.56 60.12,293.58 60.10,293.61 60.09,293.63 60.07,293.65 60.06,293.67 60.05,293.69 60.03,293.71 60.02,293.74 60.01,293.76 60.00,293.78 59.99,293.80 59.98,293.82 59.96,293.83 59.95,293.85 59.94,293.87 59.93,293.89 59.92,293.91 59.91,293.93 59.90,293.94 59.89,293.96 59.88,293.98 59.88,293.99 59.87,294.01 59.86,294.03 59.85,294.04 59.84,294.06 59.83,294.07 59.83,294.09 59.82,294.10 59.81,294.12 59.80,294.13 59.80,294.14 59.79,294.16 59.78,294.17 59.78,294.18 59.77,294.20 59.76,294.21 59.76,294.22 59.75,294.23 59.75,294.25 59.74,294.26 59.73,294.27 59.73,294.28 59.72,294.29 59.72,294.30 59.71,294.31 59.71,294.33 59.70,294.34 59.70,294.35 59.69,294.36 59.69,294.37 59.68,294.38 59.68,294.38 59.68,294.39 59.67,294.40 59.67,294.41 59.66,294.42 59.66,294.43 59.66,294.44 59.65,294.45 59.65,294.45 59.65,294.46 59.64,294.47 59.64,294.48 59.64,294.49 59.63,294.49 59.63,294.50 59.63,294.51 59.62,294.51 59.62,294.52 59.62,294.53 59.61,294.53 59.61,294.54 59.61,294.55 59.61,294.55 59.60,294.56 59.60,294.57 59.60,294.57 59.60,294.58 59.59,294.58 59.59,294.59 59.59,294.59 59.59,294.60 59.58,294.60 59.58,294.61 59.58,294.62 59.58,294.62 59.58,294.62 59.57,294.63 59.57,294.63 59.57,294.64 59.57,294.64 59.57,294.65 59.56,294.65 59.56,294.66 59.56,294.66 59.56,294.66 59.56,294.67 59.56,294.67 59.55,294.68 59.55,294.68 59.55,294.68 59.55,294.69 59.55,294.69 59.55,294.69 59.55,294.70 59.54,294.70 59.54,294.70 59.54,294.71 59.54,294.71 59.54,294.71 59.54,294.72 59.54,294.72 59.54,294.72 59.53,294.73 59.53,294.73 59.53,294.73 59.53,294.73 59.53,294.74 59.53,294.74 59.53,294.74 59.53,294.74 59.53,294.75 59.53,294.75 59.52,294.75 59.52,294.75 59.52,294.76 59.52,294.76 59.52,294.76 59.52,294.76 59.52,294.77 59.52,294.77 59.52,294.77 59.52,294.77 59.52,294.77 59.52,294.78 59.51,294.78 59.51,294.78 59.51,294.78 59.51,294.78 59.51,294.78 59.51,294.79 59.51,294.79 59.51,294.79 59.51,294.79 59.51,294.79 59.51,294.79 59.51,294.80 59.51,294.80 59.51,294.80 59.51,294.80 59.51,294.80 59.51,294.80 59.50,294.80 59.50,294.80 59.50,294.81 59.50,294.81 59.50,294.81 59.50,294.81 59.50,294.81 59.50,294.81 59.50,294.81 59.50,294.81 59.50,294.82 59.50,294.82 59.50,294.82 59.50,294.82 59.50,294.82 59.50,294.82 59.50,294.82 59.50,294.82 59.50,294.82 59.50,294.82 59.50,294.83 59.50,294.83 59.50,294.83 59.50,294.83 59.50,294.83 59.49,294.83 59.49,294.83 59.49,294.83 59.49,294.83 59.49,294.83 59.49,294.83 59.49,294.83 59.49,294.83 59.49,294.84 59.49,294.84 59.49,294.84 59.49,294.84 59.49,294.84 59.49,294.84 59.49,294.84 59.49,294.84 59.49,294.84 59.49,294.84 59.49,294.84 59.49,294.84 59.49,294.84 59.49,294.84 59.49,294.84 59.49,294.84 59.49,294.84 59.49,294.85 59.49,294.85 59.49,294.85 59.49,294.85 59.49,294.85 59.49,294.85 59.49,294.85 59.49,294.85 59.49,294.85 59.49,294.85 59.49,294.85 59.49,294.85 59.49,294.85 59.49,294.85 59.49,294.85 59.49,294.85 59.49,294.85 59.49,294.85 59.49,294.85 59.49,294.85 59.49,294.85 59.49,294.85 59.49,294.85 59.49,294.85 59.49,294.85 59.49,294.86 59.49,294.86 59.49,294.86 59.48,294.86 59.48,294.86 59.48,294.86 59.48,294.86 59.48,294.86 59.48,294.86 59.48,294.86 59.48,294.86 59.48,294.86 59.48,294.86 59.48,294.86 59.48,294.86 59.48,294.86 59.48,294.86 59.48,294.86 59.48,294.86 59.48,294.86 59.48,294.86 59.48,294.86 59.48,294.86 59.48,294.86 59.48,294.86 59.48,294.86 59.48,294.86 59.48,294.86 59.48,294.86 59.48,294.86 59.48,294.86 59.48,294.86 59.48,294.86 59.48,294.86 59.48,294.86 59.48,294.86 59.48,294.86 59.48,294.86 59.48,294.86 59.48,294.86 59.48,294.86 59.48,294.86 59.48,294.86 59.48,294.86 59.48,294.86 59.48,294.86 59.48,294.86 59.48,294.86 59.48,294.86 59.48,294.86 59.48,294.86 59.48,294.86 59.48,294.86 59.48,294.86 59.48,294.86 59.48,294.87 59.48,294.87 59.48,294.87 59.48,294.87 59.48,294.87 59.48,294.87 59.48,294.87 59.48,294.87 59.48,294.87 59.48,294.87 59.48,294.87 59.48,294.87 59.48,294.87 59.48,294.87 59.48,294.87 59.48,294.87 59.48,294.87 59.48,294.87 59.48,294.87 59.48,294.87 59.48,294.87 59.48,294.87 59.48,294.87 59.48,294.87 59.48,294.87 59.48,294.87 59.48,294.87 59.48,294.87 59.48,294.87 59.48,294.87 59.48,294.87 59.48,294.87 59.48,294.87 59.48,294.87 59.48,294.87 59.48,294.87 59.48,294.87 59.48,294.87 59.48,294.87 59.48,294.87 59.48,294.87 59.48,294.87 59.48,294.87 59.48,294.87 59.48,294.87 59.48,294.87 59.48,294.87 59.48,294.87 59.48,294.87 59.48,294.87 59.48,294.87 59.48,294.87 59.48,294.87 59.48,294.87 59.48,294.87 59.48,294.87 59.48,294.87 59.48,294.87 59.48,294.87 59.48,294.87 59.48,294.87 59.48,294.87 59.48,294.87 59.48,294.87 59.48,294.87 59.48,294.87"/><polyline points="118.51,142.44 116.88,145.29 115.30,148.11 113.78,150.88 112.30,153.61 110.87,156.29 109.49,158.94 108.15,161.54 106.86,164.11 105.60,166.63 104.39,169.11 103.22,171.55 102.09,173.95 100.99,176.31 99.93,178.63 98.91,180.91 97.91,183.15 96.95,185.35 96.02,187.51 95.13,189.64 94.26,191.72 93.42,193.77 92.60,195.78 91.82,197.75 91.05,199.69 90.32,201.59 89.61,203.46 88.92,205.29 88.25,207.09 87.60,208.85 86.98,210.58 86.37,212.28 85.79,213.94 85.22,215.57 84.67,217.17 84.14,218.74 83.63,220.28 83.13,221.78 82.64,223.26 82.18,224.71 81.72,226.13 81.29,227.52 80.86,228.88 80.45,230.22 80.05,231.52 79.66,232.80 79.29,234.06 78.93,235.29 78.57,236.49 78.23,237.67 77.90,238.83 77.58,239.96 77.27,241.06 76.96,242.15 76.67,243.21 76.38,244.25 76.10,245.26 75.84,246.26 75.57,247.23 75.32,248.18 75.07,249.12 74.83,250.03 74.60,250.92 74.37,251.79 74.15,252.65 73.93,253.48 73.72,254.30 73.52,255.10 73.32,255.88 73.13,256.65 72.94,257.39 72.75,258.12 72.57,258.84 72.39,259.54 72.22,260.22 72.05,260.89 71.89,261.54 71.73,262.18 71.57,262.80 71.42,263.41 71.27,264.00 71.12,264.58 70.97,265.15 70.83,265.70 70.69,266.24 70.55,266.77 70.41,267.29 70.28,267.79 70.15,268.28 70.02,268.76 69.89,269.23 69.76,269.69 69.64,270.14 69.51,270.57 69.39,271.00 69.27,271.42 69.15,271.82 69.03,272.22 68.91,272.61 68.79,272.98 68.68,273.35 68.56,273.71 68.44,274.06 68.33,274.41 68.21,274.74 68.10,275.07 67.98,275.39 67.87,275.70 67.75,276.01 67.64,276.30 67.52,276.60 67.41,276.88 67.29,277.16 67.18,277.43 67.06,277.70 66.95,277.96 66.83,278.21 66.72,278.46 66.60,278.71 66.48,278.95 66.37,279.19 66.25,279.42 66.13,279.65 66.01,279.87 65.90,280.09 65.78,280.30 65.66,280.52 65.54,280.72 65.42,280.93 65.31,281.13 65.19,281.33 65.07,281.53 64.95,281.72 64.83,281.92 64.72,282.11 64.60,282.29 64.48,282.48 64.37,282.66 64.25,282.84 64.14,283.02 64.02,283.20 63.91,283.38 63.80,283.55 63.69,283.73 63.58,283.90 63.47,284.07 63.36,284.24 63.26,284.41 63.15,284.57 63.05,284.74 62.95,284.90 62.85,285.06 62.75,285.22 62.65,285.38 62.56,285.54 62.46,285.70 62.37,285.85 62.28,286.01 62.19,286.16 62.11,286.31 62.02,286.46 61.94,286.61 61.86,286.76 61.78,286.90 61.71,287.05 61.63,287.19 61.56,287.33 61.49,287.47 61.42,287.61 61.35,287.74 61.29,287.88 61.22,288.01 61.16,288.14 61.10,288.27 61.05,288.40 60.99,288.52 60.94,288.65 60.88,288.77 60.83,288.89 60.78,289.01 60.74,289.13 60.69,289.24 60.64,289.35 60.60,289.47 60.56,289.58 60.52,289.68 60.48,289.79 60.44,289.89 60.41,290.00 60.37,290.10 60.34,290.20 60.31,290.29 60.28,290.39 60.24,290.48 60.22,290.58 60.19,290.67 60.16,290.75 60.13,290.84 60.11,290.93 60.08,291.01 60.06,291.09 60.04,291.17 60.02,291.25 60.00,291.33 59.98,291.41 59.96,291.48 59.94,291.55 59.92,291.63 59.90,291.70 59.89,291.76 59.87,291.83 59.85,291.90 59.84,291.96 59.82,292.03 59.81,292.09 59.80,292.15 59.78,292.21 59.77,292.27 59.76,292.32 59.75,292.38 59.74,292.43 59.73,292.49 59.71,292.54 59.70,292.59 59.70,292.64 59.69,292.69 59.68,292.74 59.67,292.78 59.66,292.83 59.65,292.88 59.64,292.92 59.64,292.96 59.63,293.00 59.62,293.05 59.62,293.09 59.61,293.13 59.60,293.16 59.60,293.20 59.59,293.24 59.58,293.27 59.58,293.31 59.57,293.34 59.57,293.38 59.56,293.41 59.56,293.44 59.55,293.48 59.55,293.51 59.55,293.54 59.54,293.57 59.54,293.60 59.53,293.62 59.53,293.65 59.53,293.68 59.52,293.70 59.52,293.73 59.52,293.76 59.51,293.78 59.51,293.80 59.51,293.83 59.50,293.85 59.50,293.87 59.50,293.90 59.50,293.92 59.49,293.94 59.49,293.96 59.49,293.98 59.49,294.00 59.48,294.02 59.48,294.04 59.48,294.06 59.48,294.07 59.47,294.09 59.47,294.11 59.47,294.13 59.47,294.14 59.47,294.16 59.46,294.18 59.46,294.19 59.46,294.21 59.46,294.22 59.46,294.23 59.46,294.25 59.46,294.26 59.45,294.28 59.45,294.29 59.45,294.30 59.45,294.32 59.45,294.33 59.45,294.34 59.45,294.35 59.44,294.36 59.44,294.37 59.44,294.39 59.44,294.40 59.44,294.41 59.44,294.42 59.44,294.43 59.44,294.44 59.44,294.45 59.44,294.46 59.43,294.46 59.43,294.47 59.43,294.48 59.43,294.49 59.43,294.50 59.43,294.51 59.43,294.52 59.43,294.52 59.43,294.53 59.43,294.54 59.43,294.55 59.43,294.55 59.43,294.56 59.42,294.57 59.42,294.57 59.42,294.58 59.42,294.59 59.42,294.59 59.42,294.60 59.42,294.61 59.42,294.61 59.42,294.62 59.42,294.62 59.42,294.63 59.42,294.63 59.42,294.64 59.42,294.64 59.42,294.65 59.42,294.65 59.42,294.66 59.42,294.66 59.42,294.67 59.42,294.67 59.41,294.68 59.41,294.68 59.41,294.69 59.41,294.69 59.41,294.69 59.41,294.70 59.41,294.70 59.41,294.71 59.41,294.71 59.41,294.71 59.41,294.72 59.41,294.72 59.41,294.72 59.41,294.73 59.41,294.73 59.41,294.73 59.41,294.74 59.41,294.74 59.41,294.74 59.41,294.74 59.41,294.75 59.41,294.75 59.41,294.75 59.41,294.75 59.41,294.76 59.41,294.76 59.41,294.76 59.41,294.76 59.41,294.77 59.41,294.77 59.41,294.77 59.41,294.77 59.41,294.78 59.41,294.78 59.41,294.78 59.41,294.78 59.41,294.78 59.40,294.79 59.40,294.79 59.40,294.79 59.40,294.79 59.40,294.79 59.40,294.79 59.40,294.80 59.40,294.80 59.40,294.80 59.40,294.80 59.40,294.80 59.40,294.80 59.40,294.81 59.40,294.81 59.40,294.81 59.40,294.81 59.40,294.81 59.40,294.81 59.40,294.81 59.40,294.82 59.40,294.82 59.40,294.82 59.40,294.82 59.40,294.82 59.40,294.82 59.40,294.82 59.40,294.82 59.40,294.82 59.40,294.83 59.40,294.83 59.40,294.83 59.40,294.83 59.40,294.83 59.40,294.83 59.40,294.83 59.40,294.83 59.40,294.83 59.40,294.83 59.40,294.83 59.40,294.83 59.40,294.84 59.40,294.84 59.40,294.84 59.40,294.84 59.40,294.84 59.40,294.84 59.40,294.84 59.40,294.84 59.40,294.84 59.40,294.84 59.40,294.84 59.40,294.84 59.40,294.84 59.40,294.84 59.40,294.84 59.40,294.85 59.40,294.85 59.40,294.85 59.40,294.85 59.40,294.85 59.40,294.85 59.40,294.85 59.40,294.85 59.40,294.85 59.40,294.85 59.40,294.85 59.40,294.85 59.40,294.85 59.40,294.85 59.40,294.85 59.40,294.85 59.40,294.85 59.40,294.85 59.40,294.85 59.40,294.85 59.40,294.85 59.40,294.85 59.40,294.85 59.40,294.86 59.40,294.86 59.40,294.86 59.40,294.86 59.40,294.86 59.40,294.86 59.40,294.86 59.40,294.86 59.40,294.86 59.40,294.86 59.40,294.86 59.40,294.86 59.40,294.86 59.40,294.86 59.40,294.86 59.40,294.86 59.40,294.86 59.40,294.86 59.40,294.86 59.40,294.86 59.40,294.86 59.40,294.86 59.40,294.86 59.40,294.86 59.40,294.86 59.40,294.86 59.40,294.86 59.40,294.86 59.40,294.86 59.40,294.86 59.40,294.86 59.40,294.86 59.40,294.86 59.40,294.86 59.40,294.86 59.40,294.86 59.40,294.86 59.40,294.86 59.40,294.86 59.40,294.86 59.40,294.86 59.40,294.86 59.40,294.86 59.40,294.86 59.40,294.86 59.40,294.86 59.40,294.86 59.40,294.86 59.40,294.86 59.40,294.87 59.40,294.87 59.40,294.87 59.40,294.87 59.40,294.87 59.40,294.87 59.40,294.87 59.40,294.87 59.40,294.87 59.40,294.87 59.40,294.87 59.40,294.87 59.40,294.87 59.40,294.87 59.40,294.87 59.40,294.87 59.40,294.87 59.40,294.87 59.40,294.87 59.40,294.87 59.40,294.87 59.40,294.87 59.40,294.87 59.40,294.87 59.40,294.87 59.40,294.87 59.40,294.87 59.40,294.87 59.40,294.87 59.40,294.87 59.40,294.87 59.40,294.87 59.40,294.87 59.40,294.87 59.40,294.87 59.40,294.87 59.40,294.87 59.40,294.87 59.40,294.87 59.40,294.87 59.40,294.87 59.40,294.87 59.40,294.87 59.40,294.87 59.40,294.87 59.40,294.87 59.40,294.87 59.40,294.87 59.40,294.87 59.40,294.87 59.40,294.87 59.40,294.87 59.40,294.87 59.40,294.87 59.40,294.87 59.40,294.87 59.40,294.87 59.40,294.87 59.40,294.87 59.40,294.87 59.40,294.87 59.40,294.87 59.40,294.87 59.40,294.87 59.40,294.87 59.40,294.87 59.40,294.87 59.40,294.87 59.40,294.87 59.40,294.87 59.40,294.87 59.40,294.87 59.40,294.87 59.40,294.87 59.40,294.87 59.40,294.87 59.40,294.87 59.40,294.87 59.40,294.87 59.40,294.87 59.40,294.87 59.40,294.87 59.40,294.87 59.40,294.87 59.40,294.87 59.40,294.87 59.40,294.87 59.40,294.87 59.40,294.87 59.40,294.87 59.40,294.87 59.40,294.87 59.40,294.87 59.40,294.87 59.40,294.87 59.40,294.87 59.40,294.87 59.40,294.87 59.40,294.87 59.40,294.87 59.40,294.87 59.40,294.87 59.40,294.87 59.40,294.87 59.40,294.87 59.40,294.87 59.40,294.87 59.40,294.87 59.40,294.87 59.40,294.87 59.40,294.87 59.40,294.87 59.40,294.87 59.40,294.87 59.40,294.87 59.40,294.87 59.40,294.87 59.40,294.87 59.40,294.87 59.40,294.87 59.40,294.87 59.40,294.87 59.40,294.87 59.40,294.87 59.40,294.87 59.40,294.87 59.40,294.87 59.40,294.87 59.40,294.87 59.40,294.87 59.40,294.87 59.40,294.87 59.40,294.87 59.40,294.87 59.40,294.87 59.40,294.87 59.40,294.87 59.40,294.87 59.40,294.87 59.40,294.87 59.40,294.87 59.40,294.87 59.40,294.87 59.40,294.87 59.40,294.87 59.40,294.87 59.40,294.87 59.40,294.87 59.40,294.87 59.40,294.87 59.40,294.87 59.40,294.87 59.40,294.87 59.40,294.87 59.40,294.87 59.40,294.87 59.40,294.87 59.40,294.87 59.40,294.87 59.40,294.87 59.40,294.87 59.40,294.87 59.40,294.87 59.40,294.87 59.40,294.87 59.40,294.87 59.40,294.87 59.40,294.87 59.40,294.87 59.40,294.87 59.40,294.87 59.40,294.87 59.40,294.87 59.40,294.87 59.40,294.87 59.40,294.87 59.40,294.87 59.40,294.87 59.40,294.87 59.40,294.87 59.40,294.87 59.40,294.87 59.40,294.87 59.40,294.87 59.40,294.87 59.40,294.87 59.40,294.87 59.40,294.87 59.40,294.87 59.40,294.87 59.40,294.87 59.40,294.87 59.40,294.87 59.40,294.87 59.40,294.87 59.40,294.87 59.40,294.87 59.40,294.87 59.40,294.87 59.40,294.87 59.40,294.87 59.40,294.87 59.40,294.87"/><polyline points="118.08,164.52 116.44,166.73 114.85,168.91 113.31,171.07 111.81,173.21 110.36,175.32 108.96,177.41 107.60,179.48 106.28,181.52 105.00,183.53 103.77,185.52 102.57,187.48 101.41,189.42 100.29,191.33 99.20,193.21 98.15,195.07 97.13,196.90 96.15,198.70 95.19,200.48 94.27,202.22 93.38,203.95 92.51,205.64 91.67,207.31 90.86,208.95 90.08,210.56 89.32,212.15 88.59,213.71 87.88,215.25 87.19,216.76 86.53,218.24 85.88,219.70 85.26,221.13 84.66,222.54 84.07,223.92 83.51,225.27 82.96,226.61 82.43,227.91 81.92,229.20 81.42,230.46 80.94,231.70 80.47,232.91 80.02,234.10 79.59,235.27 79.16,236.41 78.75,237.53 78.35,238.64 77.97,239.72 77.59,240.78 77.23,241.81 76.88,242.83 76.54,243.83 76.21,244.80 75.89,245.76 75.57,246.70 75.27,247.62 74.98,248.52 74.69,249.40 74.41,250.26 74.14,251.11 73.88,251.94 73.62,252.75 73.37,253.54 73.13,254.32 72.89,255.08 72.66,255.82 72.44,256.55 72.22,257.27 72.00,257.96 71.79,258.65 71.59,259.32 71.39,259.97 71.19,260.61 71.00,261.23 70.81,261.85 70.63,262.44 70.45,263.03 70.27,263.60 70.10,264.16 69.93,264.71 69.76,265.25 69.59,265.77 69.43,266.28 69.27,266.78 69.11,267.27 68.96,267.75 68.80,268.22 68.65,268.68 68.50,269.13 68.35,269.57 68.20,270.00 68.06,270.42 67.91,270.83 67.77,271.24 67.63,271.63 67.49,272.02 67.35,272.39 67.21,272.76 67.07,273.13 66.93,273.48 66.79,273.83 66.66,274.17 66.52,274.51 66.39,274.84 66.25,275.16 66.12,275.48 65.99,275.79 65.85,276.09 65.72,276.39 65.59,276.69 65.46,276.98 65.33,277.26 65.20,277.54 65.07,277.82 64.95,278.09 64.82,278.36 64.69,278.62 64.57,278.88 64.44,279.13 64.32,279.39 64.20,279.64 64.08,279.88 63.96,280.12 63.84,280.36 63.72,280.60 63.60,280.83 63.49,281.06 63.37,281.29 63.26,281.51 63.15,281.73 63.04,281.95 62.93,282.17 62.83,282.39 62.72,282.60 62.62,282.81 62.52,283.01 62.42,283.22 62.32,283.42 62.22,283.62 62.13,283.82 62.04,284.01 61.95,284.20 61.86,284.39 61.77,284.58 61.69,284.77 61.61,284.95 61.53,285.13 61.45,285.31 61.37,285.49 61.30,285.66 61.23,285.83 61.16,286.00 61.09,286.17 61.02,286.33 60.95,286.50 60.89,286.66 60.83,286.81 60.77,286.97 60.71,287.12 60.66,287.27 60.60,287.42 60.55,287.57 60.50,287.71 60.45,287.85 60.40,287.99 60.35,288.13 60.31,288.26 60.26,288.40 60.22,288.53 60.18,288.65 60.14,288.78 60.10,288.90 60.07,289.02 60.03,289.14 60.00,289.26 59.96,289.38 59.93,289.49 59.90,289.60 59.87,289.71 59.84,289.82 59.81,289.92 59.78,290.02 59.76,290.12 59.73,290.22 59.71,290.32 59.68,290.41 59.66,290.51 59.64,290.60 59.62,290.69 59.60,290.78 59.58,290.86 59.56,290.95 59.54,291.03 59.52,291.11 59.50,291.19 59.49,291.27 59.47,291.35 59.46,291.42 59.44,291.49 59.43,291.57 59.41,291.64 59.40,291.70 59.39,291.77 59.37,291.84 59.36,291.90 59.35,291.97 59.34,292.03 59.33,292.09 59.32,292.15 59.31,292.21 59.30,292.26 59.29,292.32 59.28,292.37 59.27,292.43 59.26,292.48 59.25,292.53 59.24,292.58 59.23,292.63 59.23,292.68 59.22,292.73 59.21,292.77 59.21,292.82 59.20,292.86 59.19,292.91 59.19,292.95 59.18,292.99 59.17,293.03 59.17,293.07 59.16,293.11 59.16,293.15 59.15,293.18 59.15,293.22 59.14,293.26 59.14,293.29 59.13,293.32 59.13,293.36 59.12,293.39 59.12,293.42 59.12,293.45 59.11,293.48 59.11,293.51 59.11,293.54 59.10,293.57 59.10,293.60 59.09,293.63 59.09,293.65 59.09,293.68 59.09,293.71 59.08,293.73 59.08,293.76 59.08,293.78 59.07,293.80 59.07,293.83 59.07,293.85 59.07,293.87 59.06,293.89 59.06,293.91 59.06,293.93 59.06,293.96 59.05,293.98 59.05,293.99 59.05,294.01 59.05,294.03 59.05,294.05 59.04,294.07 59.04,294.09 59.04,294.10 59.04,294.12 59.04,294.13 59.04,294.15 59.03,294.17 59.03,294.18 59.03,294.20 59.03,294.21 59.03,294.23 59.03,294.24 59.02,294.25 59.02,294.27 59.02,294.28 59.02,294.29 59.02,294.30 59.02,294.32 59.02,294.33 59.02,294.34 59.01,294.35 59.01,294.36 59.01,294.37 59.01,294.38 59.01,294.40 59.01,294.41 59.01,294.42 59.01,294.43 59.01,294.44 59.01,294.44 59.00,294.45 59.00,294.46 59.00,294.47 59.00,294.48 59.00,294.49 59.00,294.50 59.00,294.50 59.00,294.51 59.00,294.52 59.00,294.53 59.00,294.54 59.00,294.54 59.00,294.55 59.00,294.56 58.99,294.56 58.99,294.57 58.99,294.58 58.99,294.58 58.99,294.59 58.99,294.60 58.99,294.60 58.99,294.61 58.99,294.61 58.99,294.62 58.99,294.62 58.99,294.63 58.99,294.63 58.99,294.64 58.99,294.64 58.99,294.65 58.99,294.65 58.99,294.66 58.99,294.66 58.99,294.67 58.98,294.67 58.98,294.68 58.98,294.68 58.98,294.68 58.98,294.69 58.98,294.69 58.98,294.70 58.98,294.70 58.98,294.70 58.98,294.71 58.98,294.71 58.98,294.71 58.98,294.72 58.98,294.72 58.98,294.72 58.98,294.73 58.98,294.73 58.98,294.73 58.98,294.74 58.98,294.74 58.98,294.74 58.98,294.74 58.98,294.75 58.98,294.75 58.98,294.75 58.98,294.76 58.98,294.76 58.98,294.76 58.98,294.76 58.98,294.76 58.98,294.77 58.98,294.77 58.98,294.77 58.98,294.77 58.98,294.78 58.98,294.78 58.97,294.78 58.97,294.78 58.97,294.78 58.97,294.79 58.97,294.79 58.97,294.79 58.97,294.79 58.97,294.79 58.97,294.79 58.97,294.80 58.97,294.80 58.97,294.80 58.97,294.80 58.97,294.80 58.97,294.80 58.97,294.80 58.97,294.81 58.97,294.81 58.97,294.81 58.97,294.81 58.97,294.81 58.97,294.81 58.97,294.81 58.97,294.82 58.97,294.82 58.97,294.82 58.97,294.82 58.97,294.82 58.97,294.82 58.97,294.82 58.97,294.82 58.97,294.82 58.97,294.83 58.97,294.83 58.97,294.83 58.97,294.83 58.97,294.83 58.97,294.83 58.97,294.83 58.97,294.83 58.97,294.83 58.97,294.83 58.97,294.83 58.97,294.83 58.97,294.84 58.97,294.84 58.97,294.84 58.97,294.84 58.97,294.84 58.97,294.84 58.97,294.84 58.97,294.84 58.97,294.84 58.97,294.84 58.97,294.84 58.97,294.84 58.97,294.84 58.97,294.84 58.97,294.84 58.97,294.85 58.97,294.85 58.97,294.85 58.97,294.85 58.97,294.85 58.97,294.85 58.97,294.85 58.97,294.85 58.97,294.85 58.97,294.85 58.97,294.85 58.97,294.85 58.97,294.85 58.97,294.85 58.97,294.85 58.97,294.85 58.97,294.85 58.97,294.85 58.97,294.85 58.97,294.85 58.97,294.85 58.97,294.85 58.97,294.85 58.97,294.85 58.97,294.86 58.97,294.86 58.97,294.86 58.97,294.86 58.97,294.86 58.97,294.86 58.97,294.86 58.97,294.86 58.97,294.86 58.97,294.86 58.97,294.86 58.97,294.86 58.97,294.86 58.97,294.86 58.97,294.86 58.97,294.86 58.97,294.86 58.97,294.86 58.97,294.86 58.97,294.86 58.97,294.86 58.97,294.86 58.97,294.86 58.97,294.86 58.97,294.86 58.97,294.86 58.97,294.86 58.97,294.86 58.97,294.86 58.97,294.86 58.97,294.86 58.97,294.86 58.97,294.86 58.97,294.86 58.97,294.86 58.97,294.86 58.97,294.86 58.97,294.86 58.97,294.86 58.97,294.86 58.97,294.86 58.97,294.86 58.97,294.86 58.97,294.86 58.97,294.86 58.97,294.86 58.97,294.86 58.97,294.86 58.97,294.86 58.97,294.86 58.97,294.87 58.97,294.87 58.97,294.87 58.97,294.87 58.97,294.87 58.97,294.87 58.97,294.87 58.97,294.87 58.97,294.87 58.97,294.87 58.97,294.87 58.97,294.87 58.97,294.87 58.97,294.87 58.97,294.87 58.97,294.87 58.97,294.87 58.97,294.87 58.97,294.87 58.97,294.87 58.97,294.87 58.97,294.87 58.97,294.87 58.97,294.87 58.97,294.87 58.97,294.87 58.97,294.87 58.97,294.87 58.97,294.87 58.97,294.87 58.97,294.87 58.97,294.87 58.97,294.87 58.97,294.87 58.97,294.87 58.97,294.87 58.97,294.87 58.97,294.87 58.97,294.87 58.97,294.87 58.97,294.87 58.97,294.87 58.97,294.87 58.97,294.87 58.97,294.87 58.97,294.87 58.97,294.87 58.97,294.87 58.97,294.87 58.97,294.87 58.97,294.87 58.97,294.87 58.97,294.87 58.97,294.87 58.97,294.87 58.97,294.87 58.97,294.87 58.97,294.87 58.97,294.87 58.97,294.87 58.97,294.87 58.97,294.87 58.97,294.87 58.97,294.87 58.97,294.87 58.97,294.87 58.97,294.87 58.97,294.87 58.97,294.87 58.97,294.87 58.97,294.87 58.97,294.87 58.97,294.87 58.97,294.87 58.97,294.87 58.97,294.87 58.97,294.87 58.97,294.87 58.97,294.87 58.97,294.87 58.97,294.87 58.97,294.87 58.97,294.87 58.97,294.87 58.97,294.87 58.97,294.87 58.97,294.87 58.97,294.87 58.97,294.87 58.97,294.87 58.97,294.87 58.97,294.87 58.97,294.87 58.97,294.87 58.97,294.87 58.97,294.87 58.97,294.87 58.97,294.87 58.97,294.87 58.97,294.87 58.97,294.87 58.97,294.87 58.97,294.87 58.97,294.87 58.97,294.87 58.97,294.87 58.97,294.87 58.97,294.87 58.97,294.87 58.97,294.87 58.97,294.87 58.97,294.87 58.97,294.87 58.97,294.87 58.97,294.87 58.97,294.87 58.97,294.87 58.97,294.87 58.97,294.87 58.97,294.87 58.97,294.87 58.97,294.87 58.97,294.87 58.97,294.87 58.97,294.87 58.97,294.87 58.97,294.87 58.97,294.87 58.97,294.87 58.97,294.87 58.97,294.87 58.97,294.87 58.97,294.87 58.97,294.87 58.97,294.87 58.97,294.87 58.97,294.87 58.97,294.87 58.97,294.87 58.97,294.87 58.97,294.87 58.97,294.87 58.97,294.87 58.97,294.87 58.97,294.87 58.97,294.87 58.97,294.87 58.97,294.87 58.97,294.87 58.97,294.87 58.97,294.87 58.97,294.87 58.97,294.87 58.97,294.87 58.97,294.87 58.97,294.87 58.97,294.87 58.97,294.87 58.97,294.87 58.97,294.87 58.97,294.87 58.97,294.87 58.97,294.87 58.97,294.87 58.97,294.87 58.97,294.87 58.97,294.87 58.97,294.87 58.97,294.87 58.97,294.87 58.97,294.87 58.97,294.87 58.97,294.87 58.97,294.87 58.97,294.87 58.97,294.87 58.97,294.87 58.97,294.87 58.97,294.87 58.97,294.87 58.97,294.87 58.97,294.87 58.97,294.87 58.97,294.87 58.97,294.87 58.97,294.87 58.97,294.87 58.97,294.87 58.97,294.87 58.97,294.87 58.97,294.87 58.97,294.87 58.97,294.87 58.97,294.87 58.97,294.87 58.97,294.87 58.97,294.87 58.97,294.87 58.97,294.87 58.97,294.87 58.97,294.87 58.97,294.87 58.97,294.87 58.97,294.87"/></g>
<g fill="none" stroke="#333" stroke-width="0.9"><rect x="140.77" y="60.09" width="7.2" height="7.2"/><rect x="126.89" y="126.80" width="7.2" height="7.2"/><rect x="117.86" y="174.04" width="7.2" height="7.2"/><rect x="111.81" y="207.27" width="7.2" height="7.2"/><rect x="107.62" y="230.43" width="7.2" height="7.2"/><rect x="104.54" y="246.28" width="7.2" height="7.2"/><rect x="102.07" y="256.80" width="7.2" height="7.2"/><rect x="99.77" y="263.33" width="7.2" height="7.2"/><rect x="97.22" y="266.89" width="7.2" height="7.2"/><rect x="93.99" y="268.29" width="7.2" height="7.2"/><rect x="89.68" y="268.42" width="7.2" height="7.2"/><rect x="84.13" y="268.29" width="7.2" height="7.2" stroke-width="0.5"/><rect x="77.74" y="268.92" width="7.2" height="7.2" stroke-width="0.5"/><rect x="71.41" y="270.83" width="7.2" height="7.2" stroke-width="0.5"/><rect x="66.05" y="273.81" width="7.2" height="7.2" stroke-width="0.5"/><rect x="62.08" y="277.21" width="7.2" height="7.2" stroke-width="0.5"/><rect x="59.41" y="280.42" width="7.2" height="7.2" stroke-width="0.5"/><rect x="57.70" y="283.14" width="7.2" height="7.2" stroke-width="0.5"/><rect x="56.64" y="285.28" width="7.2" height="7.2" stroke-width="0.5"/><rect x="55.99" y="286.91" width="7.2" height="7.2" stroke-width="0.5"/><path d="M124.15,171.79L128.75,163.89L119.55,163.89Z"/><path d="M108.39,205.68L112.99,197.78L103.79,197.78Z"/><path d="M98.62,231.08L103.22,223.18L94.02,223.18Z"/><path d="M92.44,249.70L97.04,241.80L87.84,241.80Z"/><path d="M88.40,263.13L93.00,255.23L83.80,255.23Z"/><path d="M85.64,272.66L90.24,264.76L81.04,264.76Z" stroke-width="0.5"/><path d="M83.62,279.29L88.22,271.39L79.02,271.39Z" stroke-width="0.5"/><path d="M81.99,283.79L86.59,275.89L77.39,275.89Z" stroke-width="0.5"/><path d="M80.51,286.70L85.11,278.80L75.91,278.80Z" stroke-width="0.5"/><path d="M79.00,288.47L83.60,280.57L74.40,280.57Z" stroke-width="0.5"/><path d="M77.32,289.46L81.92,281.56L72.72,281.56Z" stroke-width="0.5"/><path d="M75.39,289.99L79.99,282.09L70.79,282.09Z" stroke-width="0.5"/><path d="M73.22,290.37L77.82,282.47L68.62,282.47Z" stroke-width="0.5"/><path d="M70.90,290.84L75.50,282.94L66.30,282.94Z" stroke-width="0.5"/><path d="M68.62,291.53L73.22,283.63L64.02,283.63Z" stroke-width="0.5"/><circle cx="114.58" cy="132.04" r="4.1"/><circle cx="99.79" cy="177.80" r="4.1"/><circle cx="90.30" cy="210.96" r="4.1"/><circle cx="84.07" cy="234.83" r="4.1"/><circle cx="79.91" cy="251.91" r="4.1"/><circle cx="77.08" cy="264.09" r="4.1"/><circle cx="75.11" cy="272.73" r="4.1" stroke-width="0.5"/><circle cx="73.71" cy="278.83" r="4.1" stroke-width="0.5"/><circle cx="72.69" cy="283.08" r="4.1" stroke-width="0.5"/><circle cx="71.89" cy="286.00" r="4.1" stroke-width="0.5"/><circle cx="71.23" cy="287.93" r="4.1" stroke-width="0.5"/><circle cx="70.60" cy="289.14" r="4.1" stroke-width="0.5"/><circle cx="69.94" cy="289.81" r="4.1" stroke-width="0.5"/><path d="M118.51,137.44L123.11,145.34L113.91,145.34Z"/><path d="M97.13,179.95L101.73,187.85L92.53,187.85Z"/><path d="M84.87,211.59L89.47,219.49L80.27,219.49Z"/><path d="M77.75,234.34L82.35,242.24L73.15,242.24Z"/><path d="M73.47,250.31L78.07,258.21L68.87,258.21Z"/><path d="M70.68,261.29L75.28,269.19L66.08,269.19Z" stroke-width="0.5"/><path d="M68.57,268.68L73.17,276.58L63.97,276.58Z" stroke-width="0.5"/><path d="M66.63,273.64L71.23,281.54L62.03,281.54Z" stroke-width="0.5"/><path d="M64.65,277.21L69.25,285.11L60.05,285.11Z" stroke-width="0.5"/><path d="M62.81,280.12L67.41,288.02L58.21,288.02Z" stroke-width="0.5"/><path d="M61.41,282.63L66.01,290.53L56.81,290.53Z" stroke-width="0.5"/><path d="M60.52,284.68L65.12,292.58L55.92,292.58Z" stroke-width="0.5"/><path d="M118.08,159.92L122.38,164.52L118.08,169.12L113.78,164.52Z"/><path d="M96.15,194.09L100.45,198.69L96.15,203.29L91.85,198.69Z"/><path d="M83.51,220.66L87.81,225.26L83.51,229.86L79.21,225.26Z"/><path d="M76.21,240.19L80.51,244.79L76.21,249.39L71.91,244.79Z"/><path d="M71.80,254.03L76.10,258.63L71.80,263.23L67.50,258.63Z"/><path d="M68.81,263.61L73.11,268.21L68.81,272.81L64.51,268.21Z" stroke-width="0.5"/><path d="M66.39,270.23L70.69,274.83L66.39,279.43L62.09,274.83Z" stroke-width="0.5"/><path d="M64.20,275.03L68.50,279.63L64.20,284.23L59.90,279.63Z" stroke-width="0.5"/><path d="M62.32,278.81L66.62,283.41L62.32,288.01L58.02,283.41Z" stroke-width="0.5"/><path d="M60.96,281.89L65.26,286.49L60.96,291.09L56.66,286.49Z" stroke-width="0.5"/><path d="M60.10,284.30L64.40,288.90L60.10,293.50L55.80,288.90Z" stroke-width="0.5"/></g></g>
<g clip-path="url(#ci)"><g fill="none" stroke="#2e2e2e" stroke-width="1.25" stroke-linejoin="round"><polyline points="337.00,91.79 336.23,96.08 335.47,100.24 334.73,104.29 334.02,108.22 333.31,112.04 332.63,115.76 331.96,119.38 331.31,122.89 330.68,126.30 330.05,129.61 329.45,132.83 328.85,135.96 328.27,138.99 327.70,141.94 327.14,144.80 326.60,147.58 326.06,150.27 325.53,152.89 325.02,155.42 324.51,157.88 324.01,160.26 323.52,162.57 323.04,164.81 322.57,166.98 322.10,169.08 321.64,171.11 321.18,173.08 320.73,174.98 320.28,176.82 319.84,178.60 319.41,180.32 318.97,181.98 318.54,183.59 318.11,185.14 317.69,186.63 317.27,188.07 316.85,189.46 316.43,190.79 316.01,192.08 315.59,193.32 315.17,194.50 314.75,195.64 314.32,196.74 313.90,197.79 313.48,198.80 313.05,199.76 312.62,200.68 312.19,201.56 311.75,202.40 311.31,203.20 310.86,203.96 310.41,204.68 309.95,205.36 309.49,206.01 309.02,206.63 308.54,207.21 308.06,207.75 307.56,208.27 307.06,208.75 306.55,209.20 306.03,209.62 305.50,210.01 304.96,210.38 304.41,210.71 303.85,211.02 303.27,211.30 302.69,211.56 302.09,211.79 301.47,212.01 300.85,212.19 300.21,212.36 299.55,212.51 298.88,212.64 298.20,212.74 297.50,212.84 296.78,212.91 296.05,212.97 295.30,213.02 294.53,213.05 293.75,213.07 292.94,213.08 292.12,213.08 291.29,213.07 290.43,213.05 289.56,213.03 288.67,213.00 287.76,212.97 286.84,212.93 285.89,212.89 284.93,212.85 283.95,212.82 282.96,212.78 281.94,212.75 280.92,212.72 279.87,212.69 278.81,212.67 277.73,212.66 276.65,212.66 275.54,212.67 274.43,212.68 273.30,212.71 272.16,212.75 271.01,212.81 269.85,212.88 268.68,212.96 267.50,213.06 266.32,213.17 265.13,213.30 263.94,213.45 262.74,213.62 261.54,213.80 260.34,214.00 259.14,214.23 257.94,214.47 256.74,214.73 255.55,215.00 254.36,215.30 253.17,215.62 251.99,215.95 250.82,216.31 249.66,216.68 248.51,217.07 247.37,217.48 246.24,217.90 245.12,218.34 244.02,218.80 242.93,219.27 241.86,219.76 240.80,220.26 239.76,220.78 238.73,221.30 237.73,221.84 236.74,222.40 235.77,222.96 234.82,223.53 233.88,224.11 232.97,224.70 232.08,225.29 231.20,225.89 230.35,226.50 229.52,227.11 228.70,227.73 227.91,228.35 227.14,228.97 226.39,229.60 225.65,230.22 224.94,230.85 224.25,231.48 223.57,232.10 222.92,232.73 222.28,233.35 221.67,233.97 221.07,234.59 220.49,235.21 219.93,235.82 219.38,236.43 218.85,237.03 218.34,237.63 217.85,238.22 217.37,238.81 216.91,239.39 216.46,239.96 216.03,240.53 215.61,241.09 215.20,241.64 214.81,242.19 214.44,242.73 214.07,243.26 213.72,243.79 213.38,244.31 213.05,244.81 212.74,245.32 212.43,245.81 212.14,246.29 211.86,246.77 211.58,247.24 211.32,247.70 211.06,248.16 210.82,248.60 210.58,249.04 210.35,249.47 210.13,249.89 209.92,250.30 209.71,250.71 209.52,251.10 209.33,251.49 209.14,251.87 208.97,252.25 208.80,252.62 208.63,252.97 208.47,253.33 208.32,253.67 208.17,254.01 208.03,254.34 207.90,254.66 207.76,254.98 207.64,255.29 207.51,255.59 207.39,255.89 207.28,256.18 207.17,256.46 207.06,256.74 206.96,257.01 206.86,257.27 206.77,257.53 206.68,257.78 206.59,258.03 206.50,258.27 206.42,258.51 206.34,258.74 206.26,258.96 206.19,259.18 206.12,259.40 206.05,259.61 205.98,259.82 205.91,260.02 205.85,260.21 205.79,260.40 205.73,260.59 205.68,260.77 205.62,260.95 205.57,261.12 205.52,261.29 205.47,261.46 205.42,261.62 205.38,261.78 205.33,261.93 205.29,262.08 205.25,262.23 205.21,262.37 205.17,262.51 205.13,262.65 205.09,262.78 205.06,262.91 205.03,263.04 204.99,263.16 204.96,263.28 204.93,263.40 204.90,263.51 204.87,263.62 204.84,263.73 204.82,263.84 204.79,263.94 204.76,264.04 204.74,264.14 204.71,264.24 204.69,264.33 204.67,264.42 204.65,264.51 204.63,264.60 204.61,264.69 204.59,264.77 204.57,264.85 204.55,264.93 204.53,265.01 204.51,265.08 204.49,265.15 204.48,265.23 204.46,265.30 204.45,265.36 204.43,265.43 204.42,265.49 204.40,265.56 204.39,265.62 204.38,265.68 204.36,265.74 204.35,265.79 204.34,265.85 204.33,265.90 204.31,265.96 204.30,266.01 204.29,266.06 204.28,266.11 204.27,266.15 204.26,266.20 204.25,266.25 204.24,266.29 204.23,266.33 204.22,266.37 204.21,266.42 204.21,266.46 204.20,266.49 204.19,266.53 204.18,266.57 204.18,266.61 204.17,266.64 204.16,266.67 204.15,266.71 204.15,266.74 204.14,266.77 204.13,266.80 204.13,266.83 204.12,266.86 204.12,266.89 204.11,266.92 204.10,266.95 204.10,266.97 204.09,267.00 204.09,267.02 204.08,267.05 204.08,267.07 204.07,267.10 204.07,267.12 204.07,267.14 204.06,267.16 204.06,267.18 204.05,267.21 204.05,267.23 204.05,267.24 204.04,267.26 204.04,267.28 204.03,267.30 204.03,267.32 204.03,267.34 204.02,267.35 204.02,267.37 204.02,267.38 204.01,267.40 204.01,267.42 204.01,267.43 204.01,267.44 204.00,267.46 204.00,267.47 204.00,267.49 204.00,267.50 203.99,267.51 203.99,267.52 203.99,267.54 203.99,267.55 203.98,267.56 203.98,267.57 203.98,267.58 203.98,267.59 203.98,267.60 203.97,267.61 203.97,267.62 203.97,267.63 203.97,267.64 203.97,267.65 203.96,267.66 203.96,267.67 203.96,267.68 203.96,267.68 203.96,267.69 203.96,267.70 203.96,267.71 203.95,267.71 203.95,267.72 203.95,267.73 203.95,267.74 203.95,267.74 203.95,267.75 203.95,267.76 203.95,267.76 203.94,267.77 203.94,267.77 203.94,267.78 203.94,267.78 203.94,267.79 203.94,267.80 203.94,267.80 203.94,267.81 203.94,267.81 203.93,267.82 203.93,267.82 203.93,267.82 203.93,267.83 203.93,267.83 203.93,267.84 203.93,267.84 203.93,267.85 203.93,267.85 203.93,267.85 203.93,267.86 203.93,267.86 203.93,267.86 203.93,267.87 203.92,267.87 203.92,267.87 203.92,267.88 203.92,267.88 203.92,267.88 203.92,267.89 203.92,267.89 203.92,267.89 203.92,267.89 203.92,267.90 203.92,267.90 203.92,267.90 203.92,267.91 203.92,267.91 203.92,267.91 203.92,267.91 203.92,267.91 203.92,267.92 203.92,267.92 203.92,267.92 203.91,267.92 203.91,267.92 203.91,267.93 203.91,267.93 203.91,267.93 203.91,267.93 203.91,267.93 203.91,267.94 203.91,267.94 203.91,267.94 203.91,267.94 203.91,267.94 203.91,267.94 203.91,267.94 203.91,267.95 203.91,267.95 203.91,267.95 203.91,267.95 203.91,267.95 203.91,267.95 203.91,267.95 203.91,267.95 203.91,267.96 203.91,267.96 203.91,267.96 203.91,267.96 203.91,267.96 203.91,267.96 203.91,267.96 203.91,267.96 203.91,267.96 203.91,267.97 203.91,267.97 203.91,267.97 203.91,267.97 203.91,267.97 203.91,267.97 203.91,267.97 203.91,267.97 203.91,267.97 203.91,267.97 203.91,267.97 203.91,267.97 203.91,267.97 203.91,267.98 203.90,267.98 203.90,267.98 203.90,267.98 203.90,267.98 203.90,267.98 203.90,267.98 203.90,267.98 203.90,267.98 203.90,267.98 203.90,267.98 203.90,267.98 203.90,267.98 203.90,267.98 203.90,267.98 203.90,267.98 203.90,267.98 203.90,267.98 203.90,267.98 203.90,267.98 203.90,267.99 203.90,267.99 203.90,267.99 203.90,267.99 203.90,267.99 203.90,267.99 203.90,267.99 203.90,267.99 203.90,267.99 203.90,267.99 203.90,267.99 203.90,267.99 203.90,267.99 203.90,267.99 203.90,267.99 203.90,267.99 203.90,267.99 203.90,267.99 203.90,267.99 203.90,267.99 203.90,267.99 203.90,267.99 203.90,267.99 203.90,267.99 203.90,267.99 203.90,267.99 203.90,267.99 203.90,267.99 203.90,267.99 203.90,267.99 203.90,267.99 203.90,267.99 203.90,267.99 203.90,267.99 203.90,267.99 203.90,267.99 203.90,267.99 203.90,267.99 203.90,267.99 203.90,267.99 203.90,267.99 203.90,267.99 203.90,267.99 203.90,268.00 203.90,268.00 203.90,268.00 203.90,268.00 203.90,268.00 203.90,268.00 203.90,268.00 203.90,268.00 203.90,268.00 203.90,268.00 203.90,268.00 203.90,268.00 203.90,268.00 203.90,268.00 203.90,268.00 203.90,268.00 203.90,268.00 203.90,268.00 203.90,268.00 203.90,268.00 203.90,268.00 203.90,268.00 203.90,268.00 203.90,268.00 203.90,268.00 203.90,268.00 203.90,268.00 203.90,268.00 203.90,268.00 203.90,268.00 203.90,268.00 203.90,268.00 203.90,268.00 203.90,268.00 203.90,268.00 203.90,268.00 203.90,268.00 203.90,268.00 203.90,268.00 203.90,268.00 203.90,268.00 203.90,268.00 203.90,268.00 203.90,268.00 203.90,268.00 203.90,268.00 203.90,268.00 203.90,268.00 203.90,268.00 203.90,268.00 203.90,268.00 203.90,268.00 203.90,268.00 203.90,268.00 203.90,268.00 203.90,268.00 203.90,268.00 203.90,268.00 203.90,268.00 203.90,268.00 203.90,268.00 203.90,268.00 203.90,268.00 203.90,268.00 203.90,268.00 203.90,268.00 203.90,268.00 203.90,268.00 203.90,268.00 203.90,268.00 203.90,268.00 203.90,268.00 203.90,268.00 203.90,268.00 203.90,268.00 203.90,268.00 203.90,268.00 203.90,268.00 203.90,268.00 203.90,268.00 203.90,268.00 203.90,268.00 203.90,268.00 203.90,268.00 203.90,268.00 203.90,268.00 203.90,268.00 203.90,268.00 203.90,268.00 203.90,268.00 203.90,268.00 203.90,268.00 203.90,268.00 203.90,268.00 203.90,268.00 203.90,268.00 203.90,268.00 203.90,268.00 203.90,268.00 203.90,268.00 203.90,268.00 203.90,268.00 203.90,268.00 203.90,268.00 203.90,268.00 203.90,268.00 203.90,268.00 203.90,268.00 203.90,268.00 203.90,268.00 203.90,268.00 203.90,268.00 203.90,268.00 203.90,268.00 203.90,268.00 203.90,268.00 203.90,268.00 203.90,268.00 203.90,268.00 203.90,268.00 203.90,268.00 203.90,268.00 203.90,268.00 203.90,268.00 203.90,268.00 203.90,268.00 203.90,268.00 203.90,268.00 203.90,268.00 203.90,268.00 203.90,268.00 203.90,268.00 203.90,268.00 203.90,268.00 203.90,268.00 203.90,268.00 203.90,268.00 203.90,268.00 203.90,268.00 203.90,268.00 203.90,268.00 203.90,268.00 203.90,268.00 203.90,268.00 203.90,268.00 203.90,268.00 203.90,268.00 203.90,268.00 203.90,268.00 203.90,268.00"/><polyline points="304.29,93.55 302.90,97.39 301.56,101.15 300.25,104.83 298.99,108.43 297.77,111.95 296.59,115.39 295.45,118.76 294.34,122.05 293.26,125.27 292.22,128.42 291.21,131.49 290.23,134.50 289.28,137.44 288.36,140.31 287.47,143.12 286.60,145.87 285.76,148.55 284.95,151.17 284.16,153.73 283.39,156.23 282.64,158.67 281.92,161.06 281.21,163.39 280.53,165.67 279.86,167.89 279.22,170.06 278.59,172.18 277.97,174.26 277.38,176.28 276.80,178.25 276.24,180.18 275.69,182.06 275.15,183.89 274.63,185.68 274.12,187.43 273.63,189.13 273.15,190.80 272.68,192.42 272.22,194.00 271.77,195.55 271.33,197.05 270.90,198.52 270.49,199.95 270.08,201.35 269.68,202.71 269.29,204.03 268.90,205.33 268.53,206.59 268.16,207.81 267.80,209.01 267.45,210.18 267.11,211.31 266.77,212.42 266.43,213.49 266.11,214.54 265.79,215.56 265.47,216.55 265.16,217.52 264.85,218.46 264.55,219.37 264.25,220.26 263.96,221.13 263.67,221.97 263.39,222.79 263.11,223.58 262.83,224.36 262.55,225.11 262.28,225.84 262.01,226.54 261.74,227.23 261.48,227.90 261.22,228.54 260.95,229.17 260.70,229.78 260.44,230.37 260.18,230.95 259.93,231.50 259.68,232.04 259.42,232.56 259.17,233.06 258.92,233.55 258.67,234.02 258.42,234.48 258.17,234.92 257.92,235.35 257.67,235.76 257.42,236.16 257.17,236.54 256.92,236.91 256.67,237.27 256.41,237.62 256.16,237.95 255.91,238.27 255.65,238.58 255.39,238.88 255.14,239.16 254.88,239.44 254.62,239.70 254.35,239.96 254.09,240.20 253.82,240.43 253.55,240.66 253.28,240.87 253.01,241.08 252.73,241.28 252.46,241.47 252.17,241.65 251.89,241.82 251.61,241.99 251.32,242.15 251.03,242.30 250.73,242.45 250.44,242.59 250.14,242.72 249.84,242.85 249.53,242.97 249.22,243.08 248.91,243.19 248.59,243.30 248.28,243.40 247.95,243.50 247.63,243.59 247.30,243.68 246.97,243.77 246.64,243.85 246.30,243.93 245.96,244.01 245.62,244.08 245.27,244.16 244.92,244.23 244.57,244.30 244.21,244.36 243.85,244.43 243.49,244.49 243.12,244.56 242.76,244.62 242.39,244.69 242.01,244.75 241.64,244.81 241.26,244.87 240.88,244.94 240.50,245.00 240.11,245.07 239.73,245.13 239.34,245.20 238.95,245.27 238.56,245.34 238.17,245.41 237.77,245.48 237.38,245.56 236.98,245.63 236.58,245.71 236.19,245.80 235.79,245.88 235.39,245.97 234.99,246.05 234.59,246.15 234.19,246.24 233.79,246.34 233.40,246.44 233.00,246.54 232.60,246.65 232.21,246.76 231.81,246.87 231.42,246.98 231.03,247.10 230.64,247.22 230.25,247.34 229.87,247.47 229.48,247.60 229.10,247.73 228.72,247.87 228.34,248.01 227.97,248.15 227.60,248.29 227.23,248.44 226.87,248.59 226.51,248.74 226.15,248.90 225.79,249.05 225.44,249.21 225.09,249.37 224.75,249.54 224.41,249.70 224.07,249.87 223.74,250.04 223.41,250.21 223.09,250.39 222.77,250.56 222.45,250.74 222.14,250.91 221.84,251.09 221.53,251.27 221.24,251.45 220.94,251.64 220.65,251.82 220.37,252.00 220.09,252.19 219.81,252.37 219.54,252.56 219.28,252.74 219.02,252.93 218.76,253.12 218.51,253.30 218.26,253.49 218.01,253.67 217.77,253.86 217.54,254.04 217.31,254.23 217.08,254.41 216.86,254.60 216.64,254.78 216.43,254.96 216.22,255.15 216.02,255.33 215.82,255.51 215.62,255.69 215.43,255.86 215.24,256.04 215.05,256.22 214.87,256.39 214.70,256.57 214.52,256.74 214.35,256.91 214.19,257.08 214.02,257.25 213.87,257.41 213.71,257.58 213.56,257.74 213.41,257.90 213.26,258.06 213.12,258.22 212.98,258.38 212.85,258.53 212.71,258.69 212.59,258.84 212.46,258.99 212.33,259.14 212.21,259.29 212.10,259.43 211.98,259.57 211.87,259.72 211.76,259.86 211.65,259.99 211.54,260.13 211.44,260.26 211.34,260.40 211.24,260.53 211.15,260.66 211.05,260.79 210.96,260.91 210.87,261.03 210.79,261.16 210.70,261.28 210.62,261.40 210.54,261.51 210.46,261.63 210.38,261.74 210.30,261.85 210.23,261.96 210.16,262.07 210.09,262.18 210.02,262.28 209.95,262.39 209.89,262.49 209.82,262.59 209.76,262.69 209.70,262.78 209.64,262.88 209.58,262.97 209.53,263.07 209.47,263.16 209.42,263.25 209.36,263.33 209.31,263.42 209.26,263.51 209.21,263.59 209.16,263.67 209.12,263.75 209.07,263.83 209.03,263.91 208.98,263.99 208.94,264.06 208.90,264.14 208.86,264.21 208.82,264.28 208.78,264.35 208.74,264.42 208.70,264.49 208.67,264.55 208.63,264.62 208.60,264.68 208.56,264.75 208.53,264.81 208.50,264.87 208.46,264.93 208.43,264.99 208.40,265.05 208.37,265.10 208.35,265.16 208.32,265.21 208.29,265.27 208.26,265.32 208.24,265.37 208.21,265.42 208.19,265.47 208.16,265.52 208.14,265.57 208.11,265.61 208.09,265.66 208.07,265.71 208.05,265.75 208.03,265.79 208.00,265.84 207.98,265.88 207.96,265.92 207.94,265.96 207.92,266.00 207.91,266.04 207.89,266.08 207.87,266.12 207.85,266.15 207.84,266.19 207.82,266.22 207.80,266.26 207.79,266.29 207.77,266.33 207.76,266.36 207.74,266.39 207.73,266.42 207.71,266.45 207.70,266.48 207.68,266.51 207.67,266.54 207.66,266.57 207.64,266.60 207.63,266.63 207.62,266.65 207.61,266.68 207.60,266.71 207.58,266.73 207.57,266.76 207.56,266.78 207.55,266.81 207.54,266.83 207.53,266.85 207.52,266.87 207.51,266.90 207.50,266.92 207.49,266.94 207.48,266.96 207.47,266.98 207.46,267.00 207.45,267.02 207.45,267.04 207.44,267.06 207.43,267.08 207.42,267.10 207.41,267.11 207.41,267.13 207.40,267.15 207.39,267.17 207.38,267.18 207.38,267.20 207.37,267.21 207.36,267.23 207.36,267.25 207.35,267.26 207.34,267.28 207.34,267.29 207.33,267.30 207.33,267.32 207.32,267.33 207.31,267.34 207.31,267.36 207.30,267.37 207.30,267.38 207.29,267.39 207.29,267.41 207.28,267.42 207.28,267.43 207.27,267.44 207.27,267.45 207.26,267.46 207.26,267.47 207.25,267.48 207.25,267.49 207.25,267.50 207.24,267.51 207.24,267.52 207.23,267.53 207.23,267.54 207.23,267.55 207.22,267.56 207.22,267.57 207.21,267.58 207.21,267.59 207.21,267.60 207.20,267.60 207.20,267.61 207.20,267.62 207.19,267.63 207.19,267.63 207.19,267.64 207.19,267.65 207.18,267.66 207.18,267.66 207.18,267.67 207.17,267.68 207.17,267.68 207.17,267.69 207.17,267.69 207.16,267.70 207.16,267.71 207.16,267.71 207.16,267.72 207.15,267.72 207.15,267.73 207.15,267.73 207.15,267.74 207.15,267.75 207.14,267.75 207.14,267.76 207.14,267.76 207.14,267.77 207.14,267.77 207.13,267.77 207.13,267.78 207.13,267.78 207.13,267.79 207.13,267.79 207.12,267.80 207.12,267.80 207.12,267.80 207.12,267.81 207.12,267.81 207.12,267.82 207.12,267.82 207.11,267.82 207.11,267.83 207.11,267.83 207.11,267.83 207.11,267.84 207.11,267.84 207.11,267.84 207.10,267.85 207.10,267.85 207.10,267.85 207.10,267.86 207.10,267.86 207.10,267.86 207.10,267.86 207.10,267.87 207.09,267.87 207.09,267.87 207.09,267.87 207.09,267.88 207.09,267.88 207.09,267.88 207.09,267.88 207.09,267.89 207.09,267.89 207.09,267.89 207.08,267.89 207.08,267.90 207.08,267.90 207.08,267.90 207.08,267.90 207.08,267.90 207.08,267.91 207.08,267.91 207.08,267.91 207.08,267.91 207.08,267.91 207.08,267.91 207.08,267.92 207.07,267.92 207.07,267.92 207.07,267.92 207.07,267.92 207.07,267.92 207.07,267.93 207.07,267.93 207.07,267.93 207.07,267.93 207.07,267.93 207.07,267.93 207.07,267.93 207.07,267.94 207.07,267.94 207.07,267.94 207.07,267.94 207.07,267.94 207.07,267.94 207.06,267.94 207.06,267.94 207.06,267.95 207.06,267.95 207.06,267.95 207.06,267.95 207.06,267.95 207.06,267.95 207.06,267.95 207.06,267.95 207.06,267.95 207.06,267.95 207.06,267.96 207.06,267.96 207.06,267.96 207.06,267.96 207.06,267.96 207.06,267.96 207.06,267.96 207.06,267.96 207.06,267.96 207.06,267.96 207.06,267.96 207.06,267.96 207.06,267.96 207.06,267.97 207.06,267.97 207.05,267.97 207.05,267.97 207.05,267.97 207.05,267.97 207.05,267.97 207.05,267.97 207.05,267.97 207.05,267.97 207.05,267.97 207.05,267.97 207.05,267.97 207.05,267.97 207.05,267.97 207.05,267.97 207.05,267.98 207.05,267.98 207.05,267.98 207.05,267.98 207.05,267.98 207.05,267.98 207.05,267.98 207.05,267.98 207.05,267.98 207.05,267.98 207.05,267.98 207.05,267.98 207.05,267.98 207.05,267.98 207.05,267.98 207.05,267.98 207.05,267.98 207.05,267.98 207.05,267.98 207.05,267.98 207.05,267.98 207.05,267.98 207.05,267.98 207.05,267.98 207.05,267.98 207.05,267.98 207.05,267.99 207.05,267.99 207.05,267.99 207.05,267.99 207.05,267.99 207.05,267.99 207.05,267.99 207.05,267.99 207.05,267.99 207.05,267.99 207.05,267.99 207.05,267.99 207.05,267.99 207.05,267.99 207.05,267.99 207.05,267.99 207.05,267.99 207.05,267.99 207.05,267.99 207.05,267.99 207.05,267.99 207.05,267.99 207.05,267.99 207.05,267.99 207.05,267.99 207.04,267.99 207.04,267.99 207.04,267.99 207.04,267.99 207.04,267.99 207.04,267.99 207.04,267.99 207.04,267.99 207.04,267.99 207.04,267.99 207.04,267.99 207.04,267.99 207.04,267.99 207.04,267.99 207.04,267.99 207.04,267.99 207.04,267.99 207.04,267.99 207.04,267.99 207.04,267.99 207.04,267.99 207.04,267.99 207.04,267.99 207.04,267.99 207.04,267.99 207.04,267.99 207.04,267.99 207.04,267.99 207.04,267.99 207.04,268.00 207.04,268.00 207.04,268.00 207.04,268.00 207.04,268.00 207.04,268.00 207.04,268.00 207.04,268.00 207.04,268.00 207.04,268.00 207.04,268.00 207.04,268.00 207.04,268.00 207.04,268.00 207.04,268.00 207.04,268.00 207.04,268.00 207.04,268.00 207.04,268.00 207.04,268.00 207.04,268.00 207.04,268.00 207.04,268.00 207.04,268.00 207.04,268.00 207.04,268.00 207.04,268.00 207.04,268.00 207.04,268.00 207.04,268.00 207.04,268.00 207.04,268.00 207.04,268.00 207.04,268.00 207.04,268.00 207.04,268.00 207.04,268.00 207.04,268.00 207.04,268.00 207.04,268.00 207.04,268.00 207.04,268.00 207.04,268.00 207.04,268.00 207.04,268.00 207.04,268.00 207.04,268.00 207.04,268.00 207.04,268.00 207.04,268.00 207.04,268.00 207.04,268.00 207.04,268.00 207.04,268.00 207.04,268.00 207.04,268.00 207.04,268.00 207.04,268.00"/><polyline points="273.29,94.86 272.30,98.66 271.33,102.38 270.39,106.03 269.47,109.59 268.58,113.07 267.71,116.48 266.87,119.81 266.05,123.07 265.25,126.26 264.47,129.38 263.71,132.43 262.97,135.41 262.25,138.33 261.55,141.18 260.86,143.97 260.20,146.70 259.55,149.37 258.92,151.97 258.30,154.53 257.70,157.02 257.12,159.46 256.55,161.84 255.99,164.18 255.45,166.46 254.92,168.69 254.41,170.87 253.91,173.00 253.42,175.08 252.94,177.12 252.47,179.11 252.02,181.06 251.58,182.96 251.14,184.82 250.72,186.64 250.31,188.42 249.91,190.16 249.52,191.86 249.13,193.52 248.76,195.14 248.40,196.73 248.04,198.28 247.69,199.80 247.35,201.28 247.02,202.73 246.70,204.15 246.38,205.53 246.08,206.88 245.77,208.20 245.48,209.50 245.19,210.76 244.91,211.99 244.64,213.20 244.37,214.37 244.11,215.52 243.85,216.65 243.60,217.75 243.35,218.82 243.11,219.87 242.88,220.89 242.65,221.89 242.42,222.87 242.20,223.82 241.99,224.76 241.78,225.67 241.57,226.56 241.37,227.42 241.17,228.27 240.98,229.10 240.79,229.91 240.60,230.70 240.42,231.47 240.24,232.22 240.07,232.96 239.90,233.67 239.73,234.37 239.56,235.06 239.40,235.72 239.24,236.37 239.09,237.01 238.93,237.63 238.78,238.23 238.63,238.82 238.49,239.39 238.35,239.95 238.21,240.50 238.07,241.03 237.93,241.55 237.80,242.06 237.67,242.55 237.54,243.04 237.41,243.50 237.28,243.96 237.16,244.41 237.04,244.84 236.92,245.26 236.80,245.67 236.68,246.07 236.56,246.46 236.45,246.84 236.34,247.21 236.22,247.57 236.11,247.92 236.00,248.26 235.89,248.59 235.79,248.91 235.68,249.22 235.57,249.52 235.47,249.82 235.36,250.10 235.26,250.38 235.16,250.65 235.06,250.91 234.95,251.17 234.85,251.41 234.75,251.65 234.65,251.88 234.55,252.10 234.45,252.32 234.35,252.53 234.25,252.73 234.15,252.93 234.05,253.12 233.95,253.30 233.85,253.47 233.75,253.64 233.65,253.81 233.55,253.97 233.45,254.12 233.35,254.26 233.25,254.41 233.14,254.54 233.04,254.67 232.94,254.80 232.84,254.91 232.73,255.03 232.63,255.14 232.52,255.24 232.41,255.34 232.31,255.44 232.20,255.53 232.09,255.62 231.98,255.70 231.87,255.78 231.75,255.85 231.64,255.92 231.53,255.99 231.41,256.05 231.29,256.11 231.17,256.16 231.05,256.22 230.93,256.26 230.81,256.31 230.69,256.35 230.56,256.39 230.43,256.43 230.30,256.46 230.17,256.49 230.04,256.52 229.91,256.54 229.77,256.57 229.63,256.59 229.49,256.61 229.35,256.62 229.21,256.64 229.07,256.65 228.92,256.66 228.77,256.67 228.62,256.68 228.47,256.68 228.31,256.69 228.16,256.69 228.00,256.69 227.84,256.70 227.67,256.70 227.51,256.69 227.34,256.69 227.18,256.69 227.01,256.69 226.83,256.69 226.66,256.68 226.48,256.68 226.31,256.68 226.13,256.68 225.94,256.67 225.76,256.67 225.58,256.67 225.39,256.67 225.20,256.66 225.01,256.66 224.82,256.66 224.63,256.66 224.43,256.67 224.23,256.67 224.04,256.67 223.84,256.68 223.64,256.68 223.44,256.69 223.24,256.70 223.03,256.71 222.83,256.72 222.62,256.74 222.42,256.75 222.21,256.77 222.01,256.79 221.80,256.81 221.59,256.83 221.38,256.86 221.17,256.88 220.97,256.91 220.76,256.94 220.55,256.97 220.34,257.01 220.13,257.04 219.92,257.08 219.72,257.12 219.51,257.16 219.30,257.21 219.10,257.26 218.89,257.30 218.69,257.36 218.49,257.41 218.29,257.46 218.09,257.52 217.89,257.58 217.69,257.64 217.49,257.70 217.30,257.77 217.10,257.83 216.91,257.90 216.72,257.97 216.53,258.04 216.34,258.11 216.16,258.19 215.98,258.26 215.79,258.34 215.61,258.42 215.44,258.50 215.26,258.58 215.09,258.67 214.92,258.75 214.75,258.84 214.58,258.92 214.42,259.01 214.26,259.10 214.10,259.19 213.94,259.28 213.79,259.37 213.63,259.46 213.48,259.55 213.34,259.64 213.19,259.74 213.05,259.83 212.91,259.92 212.77,260.02 212.63,260.11 212.50,260.21 212.37,260.30 212.24,260.39 212.12,260.49 211.99,260.58 211.87,260.68 211.75,260.77 211.63,260.87 211.52,260.96 211.41,261.06 211.30,261.15 211.19,261.24 211.08,261.34 210.98,261.43 210.88,261.52 210.78,261.61 210.68,261.71 210.59,261.80 210.49,261.89 210.40,261.98 210.31,262.06 210.23,262.15 210.14,262.24 210.06,262.33 209.98,262.41 209.90,262.50 209.82,262.58 209.74,262.67 209.67,262.75 209.60,262.83 209.53,262.92 209.46,263.00 209.39,263.08 209.32,263.16 209.26,263.23 209.19,263.31 209.13,263.39 209.07,263.46 209.01,263.54 208.95,263.61 208.90,263.69 208.84,263.76 208.79,263.83 208.74,263.90 208.69,263.97 208.64,264.04 208.59,264.10 208.54,264.17 208.49,264.24 208.45,264.30 208.40,264.36 208.36,264.43 208.32,264.49 208.28,264.55 208.24,264.61 208.20,264.67 208.16,264.73 208.12,264.79 208.08,264.84 208.05,264.90 208.01,264.96 207.98,265.01 207.95,265.06 207.91,265.12 207.88,265.17 207.85,265.22 207.82,265.27 207.79,265.32 207.76,265.37 207.73,265.41 207.71,265.46 207.68,265.51 207.65,265.55 207.63,265.60 207.60,265.64 207.58,265.69 207.56,265.73 207.53,265.77 207.51,265.81 207.49,265.85 207.47,265.89 207.45,265.93 207.42,265.97 207.40,266.01 207.38,266.04 207.37,266.08 207.35,266.12 207.33,266.15 207.31,266.19 207.29,266.22 207.28,266.25 207.26,266.29 207.24,266.32 207.23,266.35 207.21,266.38 207.20,266.41 207.18,266.44 207.17,266.47 207.15,266.50 207.14,266.53 207.13,266.56 207.11,266.58 207.10,266.61 207.09,266.64 207.07,266.66 207.06,266.69 207.05,266.71 207.04,266.74 207.03,266.76 207.02,266.79 207.01,266.81 207.00,266.83 206.98,266.85 206.97,266.88 206.96,266.90 206.96,266.92 206.95,266.94 206.94,266.96 206.93,266.98 206.92,267.00 206.91,267.02 206.90,267.04 206.89,267.06 206.89,267.07 206.88,267.09 206.87,267.11 206.86,267.13 206.86,267.14 206.85,267.16 206.84,267.18 206.83,267.19 206.83,267.21 206.82,267.22 206.81,267.24 206.81,267.25 206.80,267.27 206.80,267.28 206.79,267.30 206.78,267.31 206.78,267.32 206.77,267.34 206.77,267.35 206.76,267.36 206.76,267.37 206.75,267.39 206.75,267.40 206.74,267.41 206.74,267.42 206.73,267.43 206.73,267.44 206.72,267.45 206.72,267.47 206.71,267.48 206.71,267.49 206.71,267.50 206.70,267.51 206.70,267.52 206.69,267.52 206.69,267.53 206.69,267.54 206.68,267.55 206.68,267.56 206.68,267.57 206.67,267.58 206.67,267.59 206.67,267.59 206.66,267.60 206.66,267.61 206.66,267.62 206.65,267.63 206.65,267.63 206.65,267.64 206.65,267.65 206.64,267.65 206.64,267.66 206.64,267.67 206.63,267.67 206.63,267.68 206.63,267.69 206.63,267.69 206.63,267.70 206.62,267.70 206.62,267.71 206.62,267.72 206.62,267.72 206.61,267.73 206.61,267.73 206.61,267.74 206.61,267.74 206.61,267.75 206.60,267.75 206.60,267.76 206.60,267.76 206.60,267.77 206.60,267.77 206.59,267.78 206.59,267.78 206.59,267.78 206.59,267.79 206.59,267.79 206.59,267.80 206.58,267.80 206.58,267.81 206.58,267.81 206.58,267.81 206.58,267.82 206.58,267.82 206.58,267.82 206.58,267.83 206.57,267.83 206.57,267.83 206.57,267.84 206.57,267.84 206.57,267.84 206.57,267.85 206.57,267.85 206.57,267.85 206.56,267.86 206.56,267.86 206.56,267.86 206.56,267.86 206.56,267.87 206.56,267.87 206.56,267.87 206.56,267.87 206.56,267.88 206.56,267.88 206.55,267.88 206.55,267.88 206.55,267.89 206.55,267.89 206.55,267.89 206.55,267.89 206.55,267.89 206.55,267.90 206.55,267.90 206.55,267.90 206.55,267.90 206.55,267.90 206.54,267.91 206.54,267.91 206.54,267.91 206.54,267.91 206.54,267.91 206.54,267.92 206.54,267.92 206.54,267.92 206.54,267.92 206.54,267.92 206.54,267.92 206.54,267.93 206.54,267.93 206.54,267.93 206.54,267.93 206.54,267.93 206.54,267.93 206.53,267.93 206.53,267.93 206.53,267.94 206.53,267.94 206.53,267.94 206.53,267.94 206.53,267.94 206.53,267.94 206.53,267.94 206.53,267.94 206.53,267.95 206.53,267.95 206.53,267.95 206.53,267.95 206.53,267.95 206.53,267.95 206.53,267.95 206.53,267.95 206.53,267.95 206.53,267.95 206.53,267.96 206.53,267.96 206.53,267.96 206.53,267.96 206.53,267.96 206.52,267.96 206.52,267.96 206.52,267.96 206.52,267.96 206.52,267.96 206.52,267.96 206.52,267.96 206.52,267.96 206.52,267.97 206.52,267.97 206.52,267.97 206.52,267.97 206.52,267.97 206.52,267.97 206.52,267.97 206.52,267.97 206.52,267.97 206.52,267.97 206.52,267.97 206.52,267.97 206.52,267.97 206.52,267.97 206.52,267.97 206.52,267.97 206.52,267.97 206.52,267.98 206.52,267.98 206.52,267.98 206.52,267.98 206.52,267.98 206.52,267.98 206.52,267.98 206.52,267.98 206.52,267.98 206.52,267.98 206.52,267.98 206.52,267.98 206.52,267.98 206.52,267.98 206.52,267.98 206.52,267.98 206.52,267.98 206.52,267.98 206.52,267.98 206.52,267.98 206.52,267.98 206.52,267.98 206.52,267.98 206.52,267.98 206.52,267.98 206.52,267.99 206.52,267.99 206.52,267.99 206.51,267.99 206.51,267.99 206.51,267.99 206.51,267.99 206.51,267.99 206.51,267.99 206.51,267.99 206.51,267.99 206.51,267.99 206.51,267.99 206.51,267.99 206.51,267.99 206.51,267.99 206.51,267.99 206.51,267.99 206.51,267.99 206.51,267.99 206.51,267.99 206.51,267.99 206.51,267.99 206.51,267.99 206.51,267.99 206.51,267.99 206.51,267.99 206.51,267.99 206.51,267.99 206.51,267.99 206.51,267.99 206.51,267.99 206.51,267.99 206.51,267.99 206.51,267.99 206.51,267.99 206.51,267.99 206.51,267.99 206.51,267.99 206.51,267.99 206.51,267.99 206.51,267.99 206.51,267.99 206.51,267.99 206.51,267.99 206.51,267.99 206.51,267.99 206.51,267.99 206.51,267.99 206.51,267.99 206.51,267.99 206.51,267.99 206.51,267.99 206.51,267.99 206.51,267.99 206.51,268.00 206.51,268.00 206.51,268.00 206.51,268.00 206.51,268.00 206.51,268.00 206.51,268.00 206.51,268.00 206.51,268.00 206.51,268.00 206.51,268.00 206.51,268.00 206.51,268.00 206.51,268.00 206.51,268.00 206.51,268.00 206.51,268.00 206.51,268.00 206.51,268.00 206.51,268.00 206.51,268.00 206.51,268.00"/><polyline points="263.67,92.05 262.50,95.61 261.37,99.10 260.28,102.51 259.22,105.86 258.19,109.14 257.19,112.35 256.23,115.50 255.29,118.58 254.39,121.61 253.51,124.57 252.66,127.46 251.83,130.30 251.03,133.08 250.25,135.80 249.50,138.47 248.76,141.08 248.05,143.63 247.36,146.13 246.69,148.58 246.04,150.97 245.41,153.32 244.79,155.61 244.20,157.85 243.61,160.05 243.05,162.20 242.50,164.30 241.96,166.36 241.44,168.37 240.94,170.34 240.44,172.26 239.96,174.14 239.49,175.98 239.03,177.78 238.59,179.54 238.15,181.26 237.72,182.94 237.31,184.58 236.90,186.19 236.50,187.76 236.11,189.29 235.73,190.79 235.36,192.26 234.99,193.69 234.64,195.08 234.28,196.45 233.94,197.78 233.60,199.09 233.27,200.36 232.94,201.60 232.61,202.81 232.29,204.00 231.98,205.15 231.67,206.28 231.36,207.39 231.06,208.46 230.76,209.51 230.47,210.54 230.17,211.54 229.88,212.52 229.59,213.47 229.31,214.40 229.02,215.31 228.74,216.20 228.46,217.07 228.17,217.91 227.89,218.74 227.62,219.54 227.34,220.33 227.06,221.10 226.78,221.85 226.51,222.59 226.23,223.30 225.95,224.01 225.67,224.69 225.39,225.36 225.12,226.02 224.84,226.66 224.56,227.29 224.28,227.90 224.00,228.51 223.72,229.10 223.44,229.68 223.15,230.24 222.87,230.80 222.59,231.35 222.30,231.89 222.02,232.41 221.73,232.93 221.45,233.44 221.16,233.95 220.88,234.44 220.59,234.93 220.30,235.41 220.02,235.89 219.73,236.35 219.45,236.82 219.17,237.27 218.88,237.72 218.60,238.17 218.32,238.61 218.04,239.05 217.77,239.48 217.49,239.91 217.22,240.34 216.95,240.76 216.68,241.18 216.41,241.59 216.15,242.00 215.89,242.41 215.64,242.81 215.38,243.21 215.13,243.61 214.89,244.00 214.65,244.39 214.41,244.78 214.17,245.16 213.94,245.54 213.72,245.92 213.50,246.29 213.28,246.67 213.07,247.03 212.86,247.40 212.66,247.76 212.46,248.12 212.26,248.47 212.07,248.82 211.89,249.17 211.71,249.51 211.53,249.85 211.36,250.18 211.20,250.52 211.03,250.84 210.88,251.17 210.73,251.49 210.58,251.80 210.43,252.11 210.29,252.42 210.16,252.72 210.03,253.02 209.90,253.31 209.78,253.60 209.66,253.89 209.54,254.17 209.43,254.45 209.33,254.72 209.22,254.99 209.12,255.25 209.02,255.51 208.93,255.77 208.84,256.02 208.75,256.27 208.67,256.51 208.59,256.75 208.51,256.98 208.43,257.21 208.36,257.44 208.29,257.66 208.22,257.88 208.15,258.09 208.09,258.30 208.03,258.51 207.97,258.71 207.91,258.91 207.86,259.10 207.81,259.29 207.76,259.48 207.71,259.66 207.66,259.84 207.62,260.02 207.57,260.19 207.53,260.36 207.49,260.52 207.45,260.69 207.41,260.84 207.38,261.00 207.34,261.15 207.31,261.30 207.28,261.45 207.24,261.59 207.21,261.73 207.18,261.87 207.16,262.00 207.13,262.13 207.10,262.26 207.08,262.39 207.05,262.51 207.03,262.63 207.01,262.75 206.99,262.87 206.97,262.98 206.95,263.09 206.93,263.20 206.91,263.30 206.89,263.41 206.87,263.51 206.85,263.61 206.84,263.71 206.82,263.80 206.81,263.89 206.79,263.98 206.78,264.07 206.76,264.16 206.75,264.24 206.74,264.33 206.73,264.41 206.71,264.49 206.70,264.57 206.69,264.64 206.68,264.72 206.67,264.79 206.66,264.86 206.65,264.93 206.64,265.00 206.63,265.07 206.62,265.13 206.61,265.19 206.60,265.26 206.60,265.32 206.59,265.38 206.58,265.44 206.57,265.49 206.57,265.55 206.56,265.60 206.55,265.66 206.55,265.71 206.54,265.76 206.53,265.81 206.53,265.86 206.52,265.91 206.52,265.95 206.51,266.00 206.51,266.04 206.50,266.09 206.50,266.13 206.49,266.17 206.49,266.21 206.48,266.25 206.48,266.29 206.47,266.33 206.47,266.36 206.47,266.40 206.46,266.44 206.46,266.47 206.45,266.51 206.45,266.54 206.45,266.57 206.44,266.60 206.44,266.63 206.44,266.66 206.43,266.69 206.43,266.72 206.43,266.75 206.43,266.78 206.42,266.81 206.42,266.83 206.42,266.86 206.41,266.88 206.41,266.91 206.41,266.93 206.41,266.96 206.41,266.98 206.40,267.00 206.40,267.02 206.40,267.05 206.40,267.07 206.39,267.09 206.39,267.11 206.39,267.13 206.39,267.15 206.39,267.17 206.39,267.19 206.38,267.20 206.38,267.22 206.38,267.24 206.38,267.26 206.38,267.27 206.38,267.29 206.37,267.30 206.37,267.32 206.37,267.33 206.37,267.35 206.37,267.36 206.37,267.38 206.37,267.39 206.36,267.41 206.36,267.42 206.36,267.43 206.36,267.44 206.36,267.46 206.36,267.47 206.36,267.48 206.36,267.49 206.36,267.50 206.35,267.51 206.35,267.52 206.35,267.54 206.35,267.55 206.35,267.56 206.35,267.57 206.35,267.58 206.35,267.58 206.35,267.59 206.35,267.60 206.35,267.61 206.34,267.62 206.34,267.63 206.34,267.64 206.34,267.65 206.34,267.65 206.34,267.66 206.34,267.67 206.34,267.68 206.34,267.68 206.34,267.69 206.34,267.70 206.34,267.70 206.34,267.71 206.34,267.72 206.34,267.72 206.34,267.73 206.33,267.74 206.33,267.74 206.33,267.75 206.33,267.75 206.33,267.76 206.33,267.76 206.33,267.77 206.33,267.77 206.33,267.78 206.33,267.78 206.33,267.79 206.33,267.79 206.33,267.80 206.33,267.80 206.33,267.81 206.33,267.81 206.33,267.81 206.33,267.82 206.33,267.82 206.33,267.83 206.33,267.83 206.33,267.83 206.33,267.84 206.33,267.84 206.32,267.85 206.32,267.85 206.32,267.85 206.32,267.86 206.32,267.86 206.32,267.86 206.32,267.86 206.32,267.87 206.32,267.87 206.32,267.87 206.32,267.88 206.32,267.88 206.32,267.88 206.32,267.88 206.32,267.89 206.32,267.89 206.32,267.89 206.32,267.89 206.32,267.90 206.32,267.90 206.32,267.90 206.32,267.90 206.32,267.91 206.32,267.91 206.32,267.91 206.32,267.91 206.32,267.91 206.32,267.92 206.32,267.92 206.32,267.92 206.32,267.92 206.32,267.92 206.32,267.92 206.32,267.93 206.32,267.93 206.32,267.93 206.32,267.93 206.32,267.93 206.32,267.93 206.32,267.94 206.32,267.94 206.32,267.94 206.32,267.94 206.32,267.94 206.32,267.94 206.32,267.94 206.32,267.94 206.32,267.95 206.32,267.95 206.32,267.95 206.32,267.95 206.32,267.95 206.32,267.95 206.32,267.95 206.32,267.95 206.31,267.95 206.31,267.96 206.31,267.96 206.31,267.96 206.31,267.96 206.31,267.96 206.31,267.96 206.31,267.96 206.31,267.96 206.31,267.96 206.31,267.96 206.31,267.96 206.31,267.97 206.31,267.97 206.31,267.97 206.31,267.97 206.31,267.97 206.31,267.97 206.31,267.97 206.31,267.97 206.31,267.97 206.31,267.97 206.31,267.97 206.31,267.97 206.31,267.97 206.31,267.97 206.31,267.97 206.31,267.98 206.31,267.98 206.31,267.98 206.31,267.98 206.31,267.98 206.31,267.98 206.31,267.98 206.31,267.98 206.31,267.98 206.31,267.98 206.31,267.98 206.31,267.98 206.31,267.98 206.31,267.98 206.31,267.98 206.31,267.98 206.31,267.98 206.31,267.98 206.31,267.98 206.31,267.98 206.31,267.98 206.31,267.98 206.31,267.98 206.31,267.99 206.31,267.99 206.31,267.99 206.31,267.99 206.31,267.99 206.31,267.99 206.31,267.99 206.31,267.99 206.31,267.99 206.31,267.99 206.31,267.99 206.31,267.99 206.31,267.99 206.31,267.99 206.31,267.99 206.31,267.99 206.31,267.99 206.31,267.99 206.31,267.99 206.31,267.99 206.31,267.99 206.31,267.99 206.31,267.99 206.31,267.99 206.31,267.99 206.31,267.99 206.31,267.99 206.31,267.99 206.31,267.99 206.31,267.99 206.31,267.99 206.31,267.99 206.31,267.99 206.31,267.99 206.31,267.99 206.31,267.99 206.31,267.99 206.31,267.99 206.31,267.99 206.31,267.99 206.31,267.99 206.31,267.99 206.31,267.99 206.31,267.99 206.31,267.99 206.31,267.99 206.31,267.99 206.31,267.99 206.31,267.99 206.31,268.00 206.31,268.00 206.31,268.00 206.31,268.00 206.31,268.00 206.31,268.00 206.31,268.00 206.31,268.00 206.31,268.00 206.31,268.00 206.31,268.00 206.31,268.00 206.31,268.00 206.31,268.00 206.31,268.00 206.31,268.00 206.31,268.00 206.31,268.00 206.31,268.00 206.31,268.00 206.31,268.00 206.31,268.00 206.31,268.00 206.31,268.00 206.31,268.00 206.31,268.00 206.31,268.00 206.31,268.00 206.31,268.00 206.31,268.00 206.31,268.00 206.31,268.00 206.31,268.00 206.31,268.00 206.31,268.00 206.31,268.00 206.31,268.00 206.31,268.00 206.31,268.00 206.31,268.00 206.31,268.00 206.31,268.00 206.31,268.00 206.31,268.00 206.31,268.00 206.31,268.00 206.31,268.00 206.31,268.00 206.31,268.00 206.31,268.00 206.31,268.00 206.31,268.00 206.31,268.00 206.31,268.00 206.31,268.00 206.31,268.00 206.31,268.00 206.31,268.00 206.31,268.00 206.31,268.00 206.31,268.00 206.31,268.00 206.31,268.00 206.31,268.00 206.31,268.00 206.31,268.00 206.31,268.00 206.31,268.00 206.31,268.00 206.31,268.00 206.31,268.00 206.31,268.00 206.31,268.00 206.31,268.00 206.31,268.00 206.31,268.00 206.31,268.00 206.31,268.00 206.31,268.00 206.31,268.00 206.31,268.00 206.31,268.00 206.31,268.00 206.31,268.00 206.31,268.00 206.31,268.00 206.31,268.00 206.31,268.00 206.31,268.00 206.31,268.00 206.31,268.00 206.31,268.00 206.31,268.00 206.31,268.00 206.31,268.00 206.31,268.00 206.31,268.00 206.31,268.00 206.31,268.00 206.31,268.00 206.31,268.00 206.31,268.00 206.31,268.00 206.31,268.00 206.31,268.00 206.31,268.00 206.31,268.00 206.31,268.00 206.31,268.00 206.31,268.00 206.31,268.00 206.31,268.00 206.31,268.00 206.31,268.00 206.31,268.00 206.31,268.00 206.31,268.00 206.31,268.00 206.31,268.00 206.31,268.00 206.31,268.00 206.31,268.00 206.31,268.00 206.31,268.00 206.31,268.00 206.31,268.00 206.31,268.00 206.31,268.00 206.31,268.00 206.31,268.00 206.31,268.00 206.31,268.00 206.31,268.00 206.31,268.00 206.31,268.00 206.31,268.00 206.31,268.00 206.31,268.00 206.31,268.00 206.31,268.00 206.31,268.00 206.31,268.00 206.31,268.00 206.31,268.00 206.31,268.00 206.31,268.00 206.31,268.00 206.31,268.00 206.31,268.00 206.31,268.00 206.31,268.00 206.31,268.00 206.31,268.00 206.31,268.00 206.31,268.00 206.31,268.00 206.31,268.00 206.31,268.00 206.31,268.00 206.31,268.00 206.31,268.00 206.31,268.00 206.31,268.00 206.31,268.00"/><polyline points="267.36,93.87 265.95,97.19 264.58,100.46 263.26,103.66 261.98,106.81 260.74,109.90 259.54,112.94 258.38,115.91 257.25,118.83 256.16,121.70 255.11,124.51 254.08,127.27 253.09,129.97 252.13,132.62 251.20,135.22 250.29,137.77 249.42,140.27 248.57,142.72 247.74,145.12 246.94,147.47 246.16,149.78 245.41,152.04 244.68,154.25 243.97,156.42 243.27,158.54 242.60,160.62 241.95,162.65 241.31,164.65 240.69,166.60 240.09,168.51 239.50,170.38 238.93,172.21 238.37,174.00 237.83,175.76 237.30,177.47 236.78,179.15 236.27,180.80 235.78,182.41 235.30,183.98 234.82,185.52 234.36,187.02 233.91,188.50 233.46,189.94 233.02,191.35 232.60,192.73 232.18,194.08 231.76,195.39 231.36,196.68 230.96,197.95 230.56,199.18 230.18,200.39 229.79,201.57 229.42,202.72 229.04,203.85 228.68,204.96 228.31,206.04 227.95,207.09 227.60,208.13 227.24,209.14 226.89,210.13 226.55,211.10 226.20,212.05 225.86,212.98 225.52,213.89 225.18,214.78 224.85,215.66 224.52,216.51 224.19,217.35 223.86,218.18 223.53,218.98 223.20,219.77 222.88,220.55 222.56,221.31 222.24,222.06 221.92,222.79 221.60,223.52 221.28,224.23 220.97,224.92 220.65,225.61 220.34,226.28 220.03,226.95 219.72,227.60 219.41,228.24 219.11,228.88 218.81,229.50 218.51,230.12 218.21,230.73 217.91,231.32 217.62,231.91 217.33,232.50 217.04,233.07 216.75,233.64 216.47,234.20 216.19,234.76 215.92,235.30 215.65,235.84 215.38,236.38 215.11,236.91 214.85,237.43 214.60,237.94 214.34,238.45 214.10,238.96 213.85,239.46 213.61,239.95 213.38,240.43 213.14,240.92 212.92,241.39 212.70,241.86 212.48,242.32 212.26,242.78 212.06,243.23 211.85,243.68 211.65,244.12 211.46,244.56 211.27,244.99 211.09,245.41 210.91,245.83 210.73,246.24 210.56,246.65 210.39,247.05 210.23,247.45 210.07,247.84 209.92,248.23 209.77,248.61 209.63,248.98 209.49,249.35 209.35,249.71 209.22,250.07 209.09,250.42 208.97,250.77 208.85,251.11 208.73,251.44 208.62,251.77 208.51,252.10 208.40,252.41 208.30,252.73 208.20,253.04 208.11,253.34 208.01,253.64 207.93,253.93 207.84,254.22 207.76,254.50 207.67,254.77 207.60,255.05 207.52,255.31 207.45,255.57 207.38,255.83 207.31,256.08 207.24,256.33 207.18,256.57 207.12,256.81 207.06,257.05 207.00,257.27 206.95,257.50 206.89,257.72 206.84,257.94 206.79,258.15 206.74,258.35 206.70,258.56 206.65,258.76 206.61,258.95 206.57,259.14 206.53,259.33 206.49,259.52 206.45,259.70 206.41,259.87 206.38,260.05 206.35,260.21 206.31,260.38 206.28,260.54 206.25,260.70 206.22,260.86 206.19,261.01 206.17,261.16 206.14,261.31 206.11,261.45 206.09,261.59 206.06,261.73 206.04,261.86 206.02,261.99 206.00,262.12 205.98,262.25 205.96,262.37 205.94,262.49 205.92,262.61 205.90,262.73 205.88,262.84 205.86,262.95 205.85,263.06 205.83,263.17 205.82,263.27 205.80,263.37 205.79,263.47 205.77,263.57 205.76,263.67 205.74,263.76 205.73,263.85 205.72,263.94 205.71,264.03 205.70,264.11 205.68,264.20 205.67,264.28 205.66,264.36 205.65,264.44 205.64,264.52 205.63,264.59 205.62,264.66 205.61,264.74 205.60,264.81 205.60,264.88 205.59,264.94 205.58,265.01 205.57,265.07 205.56,265.14 205.56,265.20 205.55,265.26 205.54,265.32 205.53,265.38 205.53,265.43 205.52,265.49 205.52,265.54 205.51,265.60 205.50,265.65 205.50,265.70 205.49,265.75 205.49,265.80 205.48,265.85 205.48,265.89 205.47,265.94 205.47,265.98 205.46,266.03 205.46,266.07 205.45,266.11 205.45,266.15 205.44,266.19 205.44,266.23 205.44,266.27 205.43,266.31 205.43,266.34 205.42,266.38 205.42,266.41 205.42,266.45 205.41,266.48 205.41,266.51 205.41,266.55 205.40,266.58 205.40,266.61 205.40,266.64 205.39,266.67 205.39,266.70 205.39,266.73 205.39,266.75 205.38,266.78 205.38,266.81 205.38,266.83 205.38,266.86 205.37,266.88 205.37,266.91 205.37,266.93 205.37,266.95 205.36,266.98 205.36,267.00 205.36,267.02 205.36,267.04 205.36,267.06 205.35,267.08 205.35,267.10 205.35,267.12 205.35,267.14 205.35,267.16 205.35,267.18 205.34,267.19 205.34,267.21 205.34,267.23 205.34,267.25 205.34,267.26 205.34,267.28 205.33,267.29 205.33,267.31 205.33,267.32 205.33,267.34 205.33,267.35 205.33,267.37 205.33,267.38 205.32,267.39 205.32,267.41 205.32,267.42 205.32,267.43 205.32,267.44 205.32,267.46 205.32,267.47 205.32,267.48 205.32,267.49 205.31,267.50 205.31,267.51 205.31,267.52 205.31,267.53 205.31,267.54 205.31,267.55 205.31,267.56 205.31,267.57 205.31,267.58 205.31,267.59 205.31,267.60 205.31,267.61 205.30,267.62 205.30,267.63 205.30,267.63 205.30,267.64 205.30,267.65 205.30,267.66 205.30,267.66 205.30,267.67 205.30,267.68 205.30,267.69 205.30,267.69 205.30,267.70 205.30,267.71 205.30,267.71 205.30,267.72 205.29,267.72 205.29,267.73 205.29,267.74 205.29,267.74 205.29,267.75 205.29,267.75 205.29,267.76 205.29,267.76 205.29,267.77 205.29,267.77 205.29,267.78 205.29,267.78 205.29,267.79 205.29,267.79 205.29,267.80 205.29,267.80 205.29,267.81 205.29,267.81 205.29,267.81 205.29,267.82 205.29,267.82 205.29,267.83 205.29,267.83 205.29,267.83 205.28,267.84 205.28,267.84 205.28,267.84 205.28,267.85 205.28,267.85 205.28,267.85 205.28,267.86 205.28,267.86 205.28,267.86 205.28,267.87 205.28,267.87 205.28,267.87 205.28,267.87 205.28,267.88 205.28,267.88 205.28,267.88 205.28,267.88 205.28,267.89 205.28,267.89 205.28,267.89 205.28,267.89 205.28,267.90 205.28,267.90 205.28,267.90 205.28,267.90 205.28,267.91 205.28,267.91 205.28,267.91 205.28,267.91 205.28,267.91 205.28,267.91 205.28,267.92 205.28,267.92 205.28,267.92 205.28,267.92 205.28,267.92 205.28,267.93 205.28,267.93 205.28,267.93 205.28,267.93 205.28,267.93 205.28,267.93 205.28,267.93 205.28,267.94 205.28,267.94 205.28,267.94 205.28,267.94 205.28,267.94 205.28,267.94 205.28,267.94 205.28,267.94 205.27,267.95 205.27,267.95 205.27,267.95 205.27,267.95 205.27,267.95 205.27,267.95 205.27,267.95 205.27,267.95 205.27,267.95 205.27,267.96 205.27,267.96 205.27,267.96 205.27,267.96 205.27,267.96 205.27,267.96 205.27,267.96 205.27,267.96 205.27,267.96 205.27,267.96 205.27,267.96 205.27,267.97 205.27,267.97 205.27,267.97 205.27,267.97 205.27,267.97 205.27,267.97 205.27,267.97 205.27,267.97 205.27,267.97 205.27,267.97 205.27,267.97 205.27,267.97 205.27,267.97 205.27,267.97 205.27,267.97 205.27,267.97 205.27,267.98 205.27,267.98 205.27,267.98 205.27,267.98 205.27,267.98 205.27,267.98 205.27,267.98 205.27,267.98 205.27,267.98 205.27,267.98 205.27,267.98 205.27,267.98 205.27,267.98 205.27,267.98 205.27,267.98 205.27,267.98 205.27,267.98 205.27,267.98 205.27,267.98 205.27,267.98 205.27,267.98 205.27,267.98 205.27,267.98 205.27,267.99 205.27,267.99 205.27,267.99 205.27,267.99 205.27,267.99 205.27,267.99 205.27,267.99 205.27,267.99 205.27,267.99 205.27,267.99 205.27,267.99 205.27,267.99 205.27,267.99 205.27,267.99 205.27,267.99 205.27,267.99 205.27,267.99 205.27,267.99 205.27,267.99 205.27,267.99 205.27,267.99 205.27,267.99 205.27,267.99 205.27,267.99 205.27,267.99 205.27,267.99 205.27,267.99 205.27,267.99 205.27,267.99 205.27,267.99 205.27,267.99 205.27,267.99 205.27,267.99 205.27,267.99 205.27,267.99 205.27,267.99 205.27,267.99 205.27,267.99 205.27,267.99 205.27,267.99 205.27,267.99 205.27,267.99 205.27,267.99 205.27,267.99 205.27,267.99 205.27,267.99 205.27,267.99 205.27,267.99 205.27,267.99 205.27,267.99 205.27,267.99 205.27,268.00 205.27,268.00 205.27,268.00 205.27,268.00 205.27,268.00 205.27,268.00 205.27,268.00 205.27,268.00 205.27,268.00 205.27,268.00 205.27,268.00 205.27,268.00 205.27,268.00 205.27,268.00 205.27,268.00 205.27,268.00 205.27,268.00 205.27,268.00 205.27,268.00 205.27,268.00 205.27,268.00 205.27,268.00 205.27,268.00 205.27,268.00 205.27,268.00 205.27,268.00 205.27,268.00 205.27,268.00 205.27,268.00 205.27,268.00 205.27,268.00 205.27,268.00 205.27,268.00 205.27,268.00 205.27,268.00 205.27,268.00 205.27,268.00 205.27,268.00 205.27,268.00 205.27,268.00 205.27,268.00 205.27,268.00 205.27,268.00 205.27,268.00 205.27,268.00 205.27,268.00 205.27,268.00 205.27,268.00 205.27,268.00 205.27,268.00 205.27,268.00 205.27,268.00 205.27,268.00 205.27,268.00 205.27,268.00 205.27,268.00 205.27,268.00 205.27,268.00 205.27,268.00 205.27,268.00 205.27,268.00 205.27,268.00 205.27,268.00 205.27,268.00 205.27,268.00 205.27,268.00 205.27,268.00 205.27,268.00 205.27,268.00 205.27,268.00 205.27,268.00 205.27,268.00 205.27,268.00 205.27,268.00 205.27,268.00 205.27,268.00 205.27,268.00 205.27,268.00 205.27,268.00 205.27,268.00 205.27,268.00 205.27,268.00 205.27,268.00 205.27,268.00 205.27,268.00 205.27,268.00 205.27,268.00 205.27,268.00 205.27,268.00 205.27,268.00 205.27,268.00 205.27,268.00 205.27,268.00 205.27,268.00 205.27,268.00 205.27,268.00 205.27,268.00 205.27,268.00 205.27,268.00 205.27,268.00 205.27,268.00 205.27,268.00 205.27,268.00 205.27,268.00 205.27,268.00 205.27,268.00 205.27,268.00 205.27,268.00 205.27,268.00 205.27,268.00 205.27,268.00 205.27,268.00 205.27,268.00 205.27,268.00 205.27,268.00 205.27,268.00 205.27,268.00 205.27,268.00 205.27,268.00 205.27,268.00 205.27,268.00 205.27,268.00 205.27,268.00 205.27,268.00 205.27,268.00 205.27,268.00 205.27,268.00 205.27,268.00 205.27,268.00 205.27,268.00 205.27,268.00 205.27,268.00 205.27,268.00 205.27,268.00 205.27,268.00 205.27,268.00 205.27,268.00 205.27,268.00 205.27,268.00 205.27,268.00 205.27,268.00 205.27,268.00 205.27,268.00 205.27,268.00 205.27,268.00 205.27,268.00 205.27,268.00 205.27,268.00 205.27,268.00 205.27,268.00 205.27,268.00 205.27,268.00 205.27,268.00 205.27,268.00 205.27,268.00 205.27,268.00 205.27,268.00 205.27,268.00 205.27,268.00 205.27,268.00 205.27,268.00 205.27,268.00 205.27,268.00"/></g></g>
<g fill="none" stroke="#333" stroke-width="0.8"><rect x="320.53" y="156.10" width="7.2" height="7.2"/><rect x="314.55" y="181.41" width="7.2" height="7.2"/><rect x="308.99" y="197.14" width="7.2" height="7.2"/><rect x="302.84" y="205.70" width="7.2" height="7.2"/><rect x="295.03" y="209.08" width="7.2" height="7.2"/><rect x="284.60" y="209.38" width="7.2" height="7.2"/><rect x="271.19" y="209.08" width="7.2" height="7.2"/><rect x="255.74" y="210.59" width="7.2" height="7.2"/><rect x="240.44" y="215.19" width="7.2" height="7.2"/><rect x="227.49" y="222.38" width="7.2" height="7.2"/><rect x="217.89" y="230.55" width="7.2" height="7.2"/><rect x="211.43" y="238.29" width="7.2" height="7.2"/><rect x="207.32" y="244.82" width="7.2" height="7.2"/><rect x="204.76" y="249.98" width="7.2" height="7.2"/><rect x="203.18" y="253.90" width="7.2" height="7.2"/><path d="M286.18,152.22L290.78,144.32L281.58,144.32Z"/><path d="M276.42,184.54L281.02,176.64L271.82,176.64Z"/><path d="M269.74,207.49L274.34,199.59L265.14,199.59Z"/><path d="M264.85,223.46L269.45,215.56L260.25,215.56Z"/><path d="M260.91,234.28L265.51,226.38L256.31,226.38Z"/><path d="M257.33,241.29L261.93,233.39L252.73,233.39Z"/><path d="M253.68,245.55L258.28,237.65L249.08,237.65Z"/><path d="M249.63,247.93L254.23,240.03L245.03,240.03Z"/><path d="M244.97,249.22L249.57,241.32L240.37,241.32Z"/><path d="M239.72,250.13L244.32,242.23L235.12,242.23Z"/><path d="M234.12,251.26L238.72,243.36L229.52,243.36Z"/><path d="M228.59,252.92L233.19,245.02L223.99,245.02Z"/><circle cx="255.90" cy="164.58" r="4.1"/><circle cx="249.05" cy="193.90" r="4.1"/><circle cx="244.29" cy="214.71" r="4.1"/><circle cx="240.91" cy="229.38" r="4.1"/><circle cx="238.43" cy="239.62" r="4.1"/><circle cx="236.51" cy="246.64" r="4.1"/><circle cx="234.90" cy="251.29" r="4.1"/><circle cx="233.39" cy="254.20" r="4.1"/><circle cx="231.80" cy="255.82" r="4.1"/><circle cx="229.95" cy="256.54" r="4.1"/><circle cx="227.72" cy="256.70" r="4.1"/><circle cx="225.05" cy="256.66" r="4.1"/><circle cx="222.03" cy="256.79" r="4.1"/><circle cx="218.91" cy="257.30" r="4.1"/><circle cx="215.98" cy="258.26" r="4.1"/><circle cx="213.48" cy="259.55" r="4.1"/><path d="M240.31,167.77L244.91,175.67L235.71,175.67Z"/><path d="M233.57,194.19L238.17,202.09L228.97,202.09Z"/><path d="M228.48,211.98L233.08,219.88L223.88,219.88Z"/><path d="M223.80,223.93L228.40,231.83L219.20,231.83Z"/><path d="M219.02,232.51L223.62,240.41L214.42,240.41Z"/><path d="M214.56,239.53L219.16,247.43L209.96,247.43Z"/><path d="M211.17,245.57L215.77,253.47L206.57,253.47Z"/><path d="M209.03,250.51L213.63,258.41L204.43,258.41Z"/><path d="M207.82,254.25L212.42,262.15L203.22,262.15Z"/><path d="M207.17,256.95L211.77,264.85L202.57,264.85Z"/><path d="M246.95,142.84L251.25,147.44L246.95,152.04L242.65,147.44Z"/><path d="M236.28,176.17L240.58,180.77L236.28,185.37L231.98,180.77Z"/><path d="M229.05,199.22L233.35,203.82L229.05,208.42L224.75,203.82Z"/><path d="M223.21,215.15L227.51,219.75L223.21,224.35L218.91,219.75Z"/><path d="M217.92,226.70L222.22,231.30L217.92,235.90L213.62,231.30Z"/><path d="M213.38,235.82L217.68,240.42L213.38,245.02L209.08,240.42Z"/><path d="M210.08,243.22L214.38,247.82L210.08,252.42L205.78,247.82Z"/><path d="M208.02,249.02L212.32,253.62L208.02,258.22L203.72,253.62Z"/><path d="M206.84,253.32L211.14,257.92L206.84,262.52L202.54,257.92Z"/><path d="M206.19,256.40L210.49,261.00L206.19,265.60L201.89,261.00Z"/></g>
</svg>
</body></html>
